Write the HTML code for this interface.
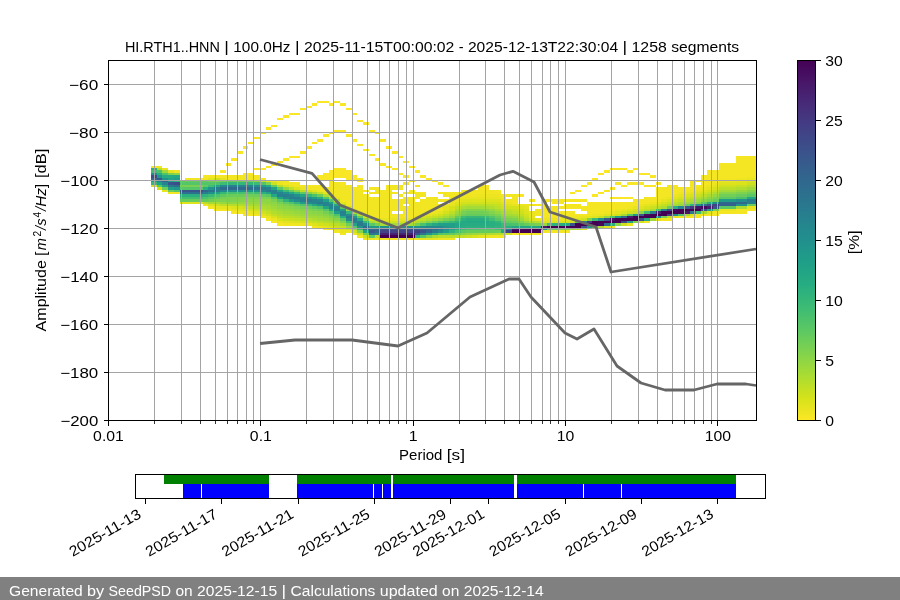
<!DOCTYPE html>
<html><head><meta charset="utf-8"><title>PPSD HI.RTH1..HNN</title>
<style>html,body{margin:0;padding:0;background:#fff;}svg{display:block;will-change:transform;}text{font-family:"Liberation Sans",sans-serif;}</style></head>
<body>
<svg width="900" height="600" viewBox="0 0 900 600" font-family="Liberation Sans, sans-serif">
<rect width="900" height="600" fill="#fff"/>
<g shape-rendering="crispEdges">
<rect x="151.00" y="184.80" width="5.73" height="2.40" fill="#d2e21c"/>
<rect x="151.00" y="182.40" width="5.73" height="2.40" fill="#36b778"/>
<rect x="151.00" y="180.00" width="5.73" height="2.40" fill="#20a088"/>
<rect x="151.00" y="177.60" width="5.73" height="2.40" fill="#31678d"/>
<rect x="151.00" y="175.20" width="5.73" height="2.40" fill="#3d4c89"/>
<rect x="151.00" y="172.80" width="5.73" height="2.40" fill="#21908d"/>
<rect x="151.00" y="170.40" width="5.73" height="2.40" fill="#43be71"/>
<rect x="151.00" y="168.00" width="5.73" height="2.40" fill="#2aaf7f"/>
<rect x="151.00" y="165.60" width="5.73" height="2.40" fill="#f2e622"/>
<rect x="156.73" y="187.20" width="5.73" height="2.40" fill="#d5e21a"/>
<rect x="156.73" y="184.80" width="5.73" height="2.40" fill="#58c765"/>
<rect x="156.73" y="182.40" width="5.73" height="2.40" fill="#21a286"/>
<rect x="156.73" y="180.00" width="5.73" height="2.40" fill="#26818e"/>
<rect x="156.73" y="177.60" width="5.73" height="2.40" fill="#38588c"/>
<rect x="156.73" y="175.20" width="5.73" height="2.40" fill="#21938c"/>
<rect x="156.73" y="172.80" width="5.73" height="2.40" fill="#29ae80"/>
<rect x="156.73" y="170.40" width="5.73" height="2.40" fill="#4ec26b"/>
<rect x="156.73" y="168.00" width="5.73" height="2.40" fill="#b7de2b"/>
<rect x="156.73" y="165.60" width="5.73" height="2.40" fill="#f0e521"/>
<rect x="162.47" y="189.60" width="5.73" height="2.40" fill="#e8e41f"/>
<rect x="162.47" y="187.20" width="5.73" height="2.40" fill="#71ce57"/>
<rect x="162.47" y="184.80" width="5.73" height="2.40" fill="#22a585"/>
<rect x="162.47" y="182.40" width="5.73" height="2.40" fill="#25848e"/>
<rect x="162.47" y="180.00" width="5.73" height="2.40" fill="#30688d"/>
<rect x="162.47" y="177.60" width="5.73" height="2.40" fill="#21928c"/>
<rect x="162.47" y="175.20" width="5.73" height="2.40" fill="#27ac81"/>
<rect x="162.47" y="172.80" width="5.73" height="2.40" fill="#4ec36b"/>
<rect x="162.47" y="170.40" width="5.73" height="2.40" fill="#9dd93b"/>
<rect x="162.47" y="168.00" width="5.73" height="2.40" fill="#eae520"/>
<rect x="168.20" y="192.00" width="5.73" height="2.40" fill="#f3e622"/>
<rect x="168.20" y="189.60" width="5.73" height="2.40" fill="#6bcd5a"/>
<rect x="168.20" y="187.20" width="5.73" height="2.40" fill="#20a187"/>
<rect x="168.20" y="184.80" width="5.73" height="2.40" fill="#29788e"/>
<rect x="168.20" y="182.40" width="5.73" height="2.40" fill="#39568c"/>
<rect x="168.20" y="180.00" width="5.73" height="2.40" fill="#1f9f88"/>
<rect x="168.20" y="177.60" width="5.73" height="2.40" fill="#22a486"/>
<rect x="168.20" y="175.20" width="5.73" height="2.40" fill="#26ab82"/>
<rect x="168.20" y="172.80" width="5.73" height="2.40" fill="#7cd250"/>
<rect x="168.20" y="170.40" width="5.73" height="2.40" fill="#e4e41e"/>
<rect x="173.93" y="192.00" width="5.73" height="2.40" fill="#f2e622"/>
<rect x="173.93" y="189.60" width="5.73" height="2.40" fill="#54c568"/>
<rect x="173.93" y="187.20" width="5.73" height="2.40" fill="#20988a"/>
<rect x="173.93" y="184.80" width="5.73" height="2.40" fill="#2d6f8e"/>
<rect x="173.93" y="182.40" width="5.73" height="2.40" fill="#3d4c89"/>
<rect x="173.93" y="180.00" width="5.73" height="2.40" fill="#2aaf7f"/>
<rect x="173.93" y="177.60" width="5.73" height="2.40" fill="#20a088"/>
<rect x="173.93" y="175.20" width="5.73" height="2.40" fill="#24a784"/>
<rect x="173.93" y="172.80" width="5.73" height="2.40" fill="#8fd644"/>
<rect x="173.93" y="170.40" width="5.73" height="2.40" fill="#f2e622"/>
<rect x="179.67" y="201.60" width="5.73" height="2.40" fill="#dde31c"/>
<rect x="179.67" y="199.20" width="5.73" height="2.40" fill="#66cb5d"/>
<rect x="179.67" y="196.80" width="5.73" height="2.40" fill="#43be71"/>
<rect x="179.67" y="194.40" width="5.73" height="2.40" fill="#2aaf7f"/>
<rect x="179.67" y="192.00" width="5.73" height="2.40" fill="#2d6f8e"/>
<rect x="179.67" y="189.60" width="5.73" height="2.40" fill="#39568c"/>
<rect x="179.67" y="187.20" width="5.73" height="2.40" fill="#54c568"/>
<rect x="179.67" y="184.80" width="5.73" height="2.40" fill="#7ad151"/>
<rect x="179.67" y="182.40" width="5.73" height="2.40" fill="#54c568"/>
<rect x="179.67" y="180.00" width="5.73" height="2.40" fill="#66cb5d"/>
<rect x="185.40" y="201.60" width="5.73" height="2.40" fill="#dde31c"/>
<rect x="185.40" y="199.20" width="5.73" height="2.40" fill="#66cb5d"/>
<rect x="185.40" y="196.80" width="5.73" height="2.40" fill="#43be71"/>
<rect x="185.40" y="194.40" width="5.73" height="2.40" fill="#2aaf7f"/>
<rect x="185.40" y="192.00" width="5.73" height="2.40" fill="#2d6f8e"/>
<rect x="185.40" y="189.60" width="5.73" height="2.40" fill="#39568c"/>
<rect x="185.40" y="187.20" width="5.73" height="2.40" fill="#54c568"/>
<rect x="185.40" y="184.80" width="5.73" height="2.40" fill="#7ad151"/>
<rect x="185.40" y="182.40" width="5.73" height="2.40" fill="#54c568"/>
<rect x="185.40" y="180.00" width="5.73" height="2.40" fill="#66cb5d"/>
<rect x="185.40" y="177.60" width="5.73" height="2.40" fill="#f2e622"/>
<rect x="191.13" y="201.60" width="5.73" height="2.40" fill="#dde31c"/>
<rect x="191.13" y="199.20" width="5.73" height="2.40" fill="#66cb5d"/>
<rect x="191.13" y="196.80" width="5.73" height="2.40" fill="#43be71"/>
<rect x="191.13" y="194.40" width="5.73" height="2.40" fill="#2aaf7f"/>
<rect x="191.13" y="192.00" width="5.73" height="2.40" fill="#2d6f8e"/>
<rect x="191.13" y="189.60" width="5.73" height="2.40" fill="#39568c"/>
<rect x="191.13" y="187.20" width="5.73" height="2.40" fill="#54c568"/>
<rect x="191.13" y="184.80" width="5.73" height="2.40" fill="#7ad151"/>
<rect x="191.13" y="182.40" width="5.73" height="2.40" fill="#54c568"/>
<rect x="191.13" y="180.00" width="5.73" height="2.40" fill="#66cb5d"/>
<rect x="191.13" y="177.60" width="5.73" height="2.40" fill="#f2e622"/>
<rect x="196.87" y="201.60" width="5.73" height="2.40" fill="#dde31c"/>
<rect x="196.87" y="199.20" width="5.73" height="2.40" fill="#66cb5d"/>
<rect x="196.87" y="196.80" width="5.73" height="2.40" fill="#43be71"/>
<rect x="196.87" y="194.40" width="5.73" height="2.40" fill="#2aaf7f"/>
<rect x="196.87" y="192.00" width="5.73" height="2.40" fill="#2d6f8e"/>
<rect x="196.87" y="189.60" width="5.73" height="2.40" fill="#39568c"/>
<rect x="196.87" y="187.20" width="5.73" height="2.40" fill="#54c568"/>
<rect x="196.87" y="184.80" width="5.73" height="2.40" fill="#7ad151"/>
<rect x="196.87" y="182.40" width="5.73" height="2.40" fill="#54c568"/>
<rect x="196.87" y="180.00" width="5.73" height="2.40" fill="#66cb5d"/>
<rect x="196.87" y="177.60" width="5.73" height="2.40" fill="#f2e622"/>
<rect x="202.60" y="204.00" width="5.73" height="2.40" fill="#f0e521"/>
<rect x="202.60" y="201.60" width="5.73" height="2.40" fill="#bbde29"/>
<rect x="202.60" y="199.20" width="5.73" height="2.40" fill="#66cb5d"/>
<rect x="202.60" y="196.80" width="5.73" height="2.40" fill="#4dc26b"/>
<rect x="202.60" y="194.40" width="5.73" height="2.40" fill="#31b47b"/>
<rect x="202.60" y="192.00" width="5.73" height="2.40" fill="#277e8e"/>
<rect x="202.60" y="189.60" width="5.73" height="2.40" fill="#31668d"/>
<rect x="202.60" y="187.20" width="5.73" height="2.40" fill="#29af80"/>
<rect x="202.60" y="184.80" width="5.73" height="2.40" fill="#62ca60"/>
<rect x="202.60" y="182.40" width="5.73" height="2.40" fill="#54c568"/>
<rect x="202.60" y="180.00" width="5.73" height="2.40" fill="#66cb5d"/>
<rect x="202.60" y="177.60" width="5.73" height="2.40" fill="#f2e622"/>
<rect x="202.60" y="175.20" width="5.73" height="2.40" fill="#f7e623"/>
<rect x="208.34" y="206.40" width="5.73" height="2.40" fill="#f5e623"/>
<rect x="208.34" y="204.00" width="5.73" height="2.40" fill="#dfe31d"/>
<rect x="208.34" y="201.60" width="5.73" height="2.40" fill="#a7db34"/>
<rect x="208.34" y="199.20" width="5.73" height="2.40" fill="#70ce57"/>
<rect x="208.34" y="196.80" width="5.73" height="2.40" fill="#58c765"/>
<rect x="208.34" y="194.40" width="5.73" height="2.40" fill="#3bba75"/>
<rect x="208.34" y="192.00" width="5.73" height="2.40" fill="#21908d"/>
<rect x="208.34" y="189.60" width="5.73" height="2.40" fill="#2c728e"/>
<rect x="208.34" y="187.20" width="5.73" height="2.40" fill="#20958b"/>
<rect x="208.34" y="184.80" width="5.73" height="2.40" fill="#43be71"/>
<rect x="208.34" y="182.40" width="5.73" height="2.40" fill="#55c567"/>
<rect x="208.34" y="180.00" width="5.73" height="2.40" fill="#73cf55"/>
<rect x="208.34" y="177.60" width="5.73" height="2.40" fill="#e2e41e"/>
<rect x="208.34" y="175.20" width="5.73" height="2.40" fill="#f4e622"/>
<rect x="214.07" y="208.80" width="5.73" height="2.40" fill="#f5e623"/>
<rect x="214.07" y="206.40" width="5.73" height="2.40" fill="#e8e41f"/>
<rect x="214.07" y="204.00" width="5.73" height="2.40" fill="#cde11f"/>
<rect x="214.07" y="201.60" width="5.73" height="2.40" fill="#a5db36"/>
<rect x="214.07" y="199.20" width="5.73" height="2.40" fill="#7ed24f"/>
<rect x="214.07" y="196.80" width="5.73" height="2.40" fill="#66cb5d"/>
<rect x="214.07" y="194.40" width="5.73" height="2.40" fill="#4bc26c"/>
<rect x="214.07" y="192.00" width="5.73" height="2.40" fill="#22a386"/>
<rect x="214.07" y="189.60" width="5.73" height="2.40" fill="#287c8e"/>
<rect x="214.07" y="187.20" width="5.73" height="2.40" fill="#277e8e"/>
<rect x="214.07" y="184.80" width="5.73" height="2.40" fill="#24a884"/>
<rect x="214.07" y="182.40" width="5.73" height="2.40" fill="#50c36a"/>
<rect x="214.07" y="180.00" width="5.73" height="2.40" fill="#81d34d"/>
<rect x="214.07" y="177.60" width="5.73" height="2.40" fill="#cfe11d"/>
<rect x="214.07" y="175.20" width="5.73" height="2.40" fill="#f5e623"/>
<rect x="219.80" y="208.80" width="5.73" height="2.40" fill="#f3e622"/>
<rect x="219.80" y="206.40" width="5.73" height="2.40" fill="#e5e41f"/>
<rect x="219.80" y="204.00" width="5.73" height="2.40" fill="#bfdf26"/>
<rect x="219.80" y="201.60" width="5.73" height="2.40" fill="#97d83e"/>
<rect x="219.80" y="199.20" width="5.73" height="2.40" fill="#7ed24f"/>
<rect x="219.80" y="196.80" width="5.73" height="2.40" fill="#74cf55"/>
<rect x="219.80" y="194.40" width="5.73" height="2.40" fill="#5dc862"/>
<rect x="219.80" y="192.00" width="5.73" height="2.40" fill="#35b778"/>
<rect x="219.80" y="189.60" width="5.73" height="2.40" fill="#23898d"/>
<rect x="219.80" y="187.20" width="5.73" height="2.40" fill="#2e6c8e"/>
<rect x="219.80" y="184.80" width="5.73" height="2.40" fill="#228c8d"/>
<rect x="219.80" y="182.40" width="5.73" height="2.40" fill="#3ebc74"/>
<rect x="219.80" y="180.00" width="5.73" height="2.40" fill="#73cf55"/>
<rect x="219.80" y="177.60" width="5.73" height="2.40" fill="#e1e41d"/>
<rect x="219.80" y="175.20" width="5.73" height="2.40" fill="#f4e622"/>
<rect x="219.80" y="170.40" width="5.73" height="2.40" fill="#f9e624"/>
<rect x="225.54" y="208.80" width="5.73" height="2.40" fill="#efe521"/>
<rect x="225.54" y="206.40" width="5.73" height="2.40" fill="#e3e41e"/>
<rect x="225.54" y="204.00" width="5.73" height="2.40" fill="#b9de2a"/>
<rect x="225.54" y="201.60" width="5.73" height="2.40" fill="#90d643"/>
<rect x="225.54" y="199.20" width="5.73" height="2.40" fill="#7cd150"/>
<rect x="225.54" y="196.80" width="5.73" height="2.40" fill="#7bd151"/>
<rect x="225.54" y="194.40" width="5.73" height="2.40" fill="#67cb5c"/>
<rect x="225.54" y="192.00" width="5.73" height="2.40" fill="#44bf70"/>
<rect x="225.54" y="189.60" width="5.73" height="2.40" fill="#21918d"/>
<rect x="225.54" y="187.20" width="5.73" height="2.40" fill="#30688d"/>
<rect x="225.54" y="184.80" width="5.73" height="2.40" fill="#26818e"/>
<rect x="225.54" y="182.40" width="5.73" height="2.40" fill="#36b778"/>
<rect x="225.54" y="180.00" width="5.73" height="2.40" fill="#68cc5c"/>
<rect x="225.54" y="177.60" width="5.73" height="2.40" fill="#f2e622"/>
<rect x="225.54" y="175.20" width="5.73" height="2.40" fill="#f2e622"/>
<rect x="225.54" y="163.20" width="5.73" height="2.40" fill="#f9e624"/>
<rect x="231.27" y="211.20" width="5.73" height="2.40" fill="#f7e623"/>
<rect x="231.27" y="208.80" width="5.73" height="2.40" fill="#e9e41f"/>
<rect x="231.27" y="206.40" width="5.73" height="2.40" fill="#dbe31c"/>
<rect x="231.27" y="204.00" width="5.73" height="2.40" fill="#b4dd2c"/>
<rect x="231.27" y="201.60" width="5.73" height="2.40" fill="#92d742"/>
<rect x="231.27" y="199.20" width="5.73" height="2.40" fill="#80d34e"/>
<rect x="231.27" y="196.80" width="5.73" height="2.40" fill="#7dd250"/>
<rect x="231.27" y="194.40" width="5.73" height="2.40" fill="#69cc5b"/>
<rect x="231.27" y="192.00" width="5.73" height="2.40" fill="#46bf6f"/>
<rect x="231.27" y="189.60" width="5.73" height="2.40" fill="#21928c"/>
<rect x="231.27" y="187.20" width="5.73" height="2.40" fill="#30698d"/>
<rect x="231.27" y="184.80" width="5.73" height="2.40" fill="#26828e"/>
<rect x="231.27" y="182.40" width="5.73" height="2.40" fill="#36b778"/>
<rect x="231.27" y="180.00" width="5.73" height="2.40" fill="#6ccd5a"/>
<rect x="231.27" y="177.60" width="5.73" height="2.40" fill="#f2e622"/>
<rect x="231.27" y="175.20" width="5.73" height="2.40" fill="#f2e622"/>
<rect x="231.27" y="158.40" width="5.73" height="2.40" fill="#f9e624"/>
<rect x="237.00" y="211.20" width="5.73" height="2.40" fill="#f2e622"/>
<rect x="237.00" y="208.80" width="5.73" height="2.40" fill="#e2e41e"/>
<rect x="237.00" y="206.40" width="5.73" height="2.40" fill="#d2e21b"/>
<rect x="237.00" y="204.00" width="5.73" height="2.40" fill="#b0dd2f"/>
<rect x="237.00" y="201.60" width="5.73" height="2.40" fill="#94d740"/>
<rect x="237.00" y="199.20" width="5.73" height="2.40" fill="#84d44b"/>
<rect x="237.00" y="196.80" width="5.73" height="2.40" fill="#7ed24e"/>
<rect x="237.00" y="194.40" width="5.73" height="2.40" fill="#6bcc5a"/>
<rect x="237.00" y="192.00" width="5.73" height="2.40" fill="#47c06e"/>
<rect x="237.00" y="189.60" width="5.73" height="2.40" fill="#20948c"/>
<rect x="237.00" y="187.20" width="5.73" height="2.40" fill="#2f6b8e"/>
<rect x="237.00" y="184.80" width="5.73" height="2.40" fill="#25848e"/>
<rect x="237.00" y="182.40" width="5.73" height="2.40" fill="#36b778"/>
<rect x="237.00" y="180.00" width="5.73" height="2.40" fill="#70ce57"/>
<rect x="237.00" y="177.60" width="5.73" height="2.40" fill="#f2e622"/>
<rect x="237.00" y="175.20" width="5.73" height="2.40" fill="#f2e622"/>
<rect x="237.00" y="151.20" width="5.73" height="2.40" fill="#f9e624"/>
<rect x="242.74" y="213.60" width="5.73" height="2.40" fill="#f6e623"/>
<rect x="242.74" y="211.20" width="5.73" height="2.40" fill="#eee521"/>
<rect x="242.74" y="208.80" width="5.73" height="2.40" fill="#dce31c"/>
<rect x="242.74" y="206.40" width="5.73" height="2.40" fill="#cae020"/>
<rect x="242.74" y="204.00" width="5.73" height="2.40" fill="#abdc31"/>
<rect x="242.74" y="201.60" width="5.73" height="2.40" fill="#96d83f"/>
<rect x="242.74" y="199.20" width="5.73" height="2.40" fill="#88d449"/>
<rect x="242.74" y="196.80" width="5.73" height="2.40" fill="#80d34d"/>
<rect x="242.74" y="194.40" width="5.73" height="2.40" fill="#6dcd59"/>
<rect x="242.74" y="192.00" width="5.73" height="2.40" fill="#49c16d"/>
<rect x="242.74" y="189.60" width="5.73" height="2.40" fill="#20958b"/>
<rect x="242.74" y="187.20" width="5.73" height="2.40" fill="#2e6c8e"/>
<rect x="242.74" y="184.80" width="5.73" height="2.40" fill="#25858e"/>
<rect x="242.74" y="182.40" width="5.73" height="2.40" fill="#36b778"/>
<rect x="242.74" y="180.00" width="5.73" height="2.40" fill="#73cf55"/>
<rect x="242.74" y="177.60" width="5.73" height="2.40" fill="#f2e622"/>
<rect x="242.74" y="175.20" width="5.73" height="2.40" fill="#f2e622"/>
<rect x="242.74" y="146.40" width="5.73" height="2.40" fill="#f9e624"/>
<rect x="242.74" y="172.80" width="5.73" height="2.40" fill="#f9e624"/>
<rect x="248.47" y="213.60" width="5.73" height="2.40" fill="#f4e622"/>
<rect x="248.47" y="211.20" width="5.73" height="2.40" fill="#eae520"/>
<rect x="248.47" y="208.80" width="5.73" height="2.40" fill="#d6e21a"/>
<rect x="248.47" y="206.40" width="5.73" height="2.40" fill="#c1df25"/>
<rect x="248.47" y="204.00" width="5.73" height="2.40" fill="#a7db34"/>
<rect x="248.47" y="201.60" width="5.73" height="2.40" fill="#98d83e"/>
<rect x="248.47" y="199.20" width="5.73" height="2.40" fill="#8cd546"/>
<rect x="248.47" y="196.80" width="5.73" height="2.40" fill="#82d34c"/>
<rect x="248.47" y="194.40" width="5.73" height="2.40" fill="#6fce58"/>
<rect x="248.47" y="192.00" width="5.73" height="2.40" fill="#4ac16d"/>
<rect x="248.47" y="189.60" width="5.73" height="2.40" fill="#20978b"/>
<rect x="248.47" y="187.20" width="5.73" height="2.40" fill="#2d6e8e"/>
<rect x="248.47" y="184.80" width="5.73" height="2.40" fill="#24878e"/>
<rect x="248.47" y="182.40" width="5.73" height="2.40" fill="#36b778"/>
<rect x="248.47" y="180.00" width="5.73" height="2.40" fill="#77d053"/>
<rect x="248.47" y="177.60" width="5.73" height="2.40" fill="#f2e622"/>
<rect x="248.47" y="175.20" width="5.73" height="2.40" fill="#f2e622"/>
<rect x="248.47" y="141.60" width="5.73" height="2.40" fill="#f9e624"/>
<rect x="248.47" y="172.80" width="5.73" height="2.40" fill="#f9e624"/>
<rect x="254.20" y="213.60" width="5.73" height="2.40" fill="#efe521"/>
<rect x="254.20" y="211.20" width="5.73" height="2.40" fill="#e2e41e"/>
<rect x="254.20" y="208.80" width="5.73" height="2.40" fill="#cce11f"/>
<rect x="254.20" y="206.40" width="5.73" height="2.40" fill="#b7de2b"/>
<rect x="254.20" y="204.00" width="5.73" height="2.40" fill="#a3da37"/>
<rect x="254.20" y="201.60" width="5.73" height="2.40" fill="#98d83e"/>
<rect x="254.20" y="199.20" width="5.73" height="2.40" fill="#8dd645"/>
<rect x="254.20" y="196.80" width="5.73" height="2.40" fill="#82d34c"/>
<rect x="254.20" y="194.40" width="5.73" height="2.40" fill="#6ccd5a"/>
<rect x="254.20" y="192.00" width="5.73" height="2.40" fill="#40bd72"/>
<rect x="254.20" y="189.60" width="5.73" height="2.40" fill="#21948c"/>
<rect x="254.20" y="187.20" width="5.73" height="2.40" fill="#2b738e"/>
<rect x="254.20" y="184.80" width="5.73" height="2.40" fill="#228e8d"/>
<rect x="254.20" y="182.40" width="5.73" height="2.40" fill="#3bbb75"/>
<rect x="254.20" y="180.00" width="5.73" height="2.40" fill="#8cd546"/>
<rect x="254.20" y="177.60" width="5.73" height="2.40" fill="#f3e622"/>
<rect x="254.20" y="175.20" width="5.73" height="2.40" fill="#f5e623"/>
<rect x="254.20" y="136.80" width="5.73" height="2.40" fill="#f9e624"/>
<rect x="254.20" y="168.00" width="5.73" height="2.40" fill="#f9e624"/>
<rect x="259.94" y="216.00" width="5.73" height="2.40" fill="#f2e622"/>
<rect x="259.94" y="213.60" width="5.73" height="2.40" fill="#e4e41e"/>
<rect x="259.94" y="211.20" width="5.73" height="2.40" fill="#d1e11c"/>
<rect x="259.94" y="208.80" width="5.73" height="2.40" fill="#bddf27"/>
<rect x="259.94" y="206.40" width="5.73" height="2.40" fill="#acdc31"/>
<rect x="259.94" y="204.00" width="5.73" height="2.40" fill="#9fda39"/>
<rect x="259.94" y="201.60" width="5.73" height="2.40" fill="#94d741"/>
<rect x="259.94" y="199.20" width="5.73" height="2.40" fill="#8cd546"/>
<rect x="259.94" y="196.80" width="5.73" height="2.40" fill="#7ed24f"/>
<rect x="259.94" y="194.40" width="5.73" height="2.40" fill="#60c960"/>
<rect x="259.94" y="192.00" width="5.73" height="2.40" fill="#2aaf7f"/>
<rect x="259.94" y="189.60" width="5.73" height="2.40" fill="#24878e"/>
<rect x="259.94" y="187.20" width="5.73" height="2.40" fill="#287c8e"/>
<rect x="259.94" y="184.80" width="5.73" height="2.40" fill="#1f9d89"/>
<rect x="259.94" y="182.40" width="5.73" height="2.40" fill="#55c567"/>
<rect x="259.94" y="180.00" width="5.73" height="2.40" fill="#bedf27"/>
<rect x="259.94" y="177.60" width="5.73" height="2.40" fill="#f5e623"/>
<rect x="259.94" y="132.00" width="5.73" height="2.40" fill="#f9e624"/>
<rect x="259.94" y="168.00" width="5.73" height="2.40" fill="#f9e624"/>
<rect x="265.67" y="218.40" width="5.73" height="2.40" fill="#f4e623"/>
<rect x="265.67" y="216.00" width="5.73" height="2.40" fill="#eae520"/>
<rect x="265.67" y="213.60" width="5.73" height="2.40" fill="#d6e21a"/>
<rect x="265.67" y="211.20" width="5.73" height="2.40" fill="#c0df26"/>
<rect x="265.67" y="208.80" width="5.73" height="2.40" fill="#b2dd2d"/>
<rect x="265.67" y="206.40" width="5.73" height="2.40" fill="#a6db35"/>
<rect x="265.67" y="204.00" width="5.73" height="2.40" fill="#9bd93c"/>
<rect x="265.67" y="201.60" width="5.73" height="2.40" fill="#90d643"/>
<rect x="265.67" y="199.20" width="5.73" height="2.40" fill="#8ed645"/>
<rect x="265.67" y="196.80" width="5.73" height="2.40" fill="#7bd151"/>
<rect x="265.67" y="194.40" width="5.73" height="2.40" fill="#56c666"/>
<rect x="265.67" y="192.00" width="5.73" height="2.40" fill="#21a386"/>
<rect x="265.67" y="189.60" width="5.73" height="2.40" fill="#287b8e"/>
<rect x="265.67" y="187.20" width="5.73" height="2.40" fill="#26808e"/>
<rect x="265.67" y="184.80" width="5.73" height="2.40" fill="#26ab82"/>
<rect x="265.67" y="182.40" width="5.73" height="2.40" fill="#80d34d"/>
<rect x="265.67" y="180.00" width="5.73" height="2.40" fill="#e9e41f"/>
<rect x="265.67" y="127.20" width="5.73" height="2.40" fill="#f9e624"/>
<rect x="265.67" y="165.60" width="5.73" height="2.40" fill="#f9e624"/>
<rect x="271.40" y="220.80" width="5.73" height="2.40" fill="#f5e623"/>
<rect x="271.40" y="218.40" width="5.73" height="2.40" fill="#ebe520"/>
<rect x="271.40" y="216.00" width="5.73" height="2.40" fill="#d8e21b"/>
<rect x="271.40" y="213.60" width="5.73" height="2.40" fill="#c2df25"/>
<rect x="271.40" y="211.20" width="5.73" height="2.40" fill="#b3dd2d"/>
<rect x="271.40" y="208.80" width="5.73" height="2.40" fill="#a8db34"/>
<rect x="271.40" y="206.40" width="5.73" height="2.40" fill="#9dd93b"/>
<rect x="271.40" y="204.00" width="5.73" height="2.40" fill="#92d742"/>
<rect x="271.40" y="201.60" width="5.73" height="2.40" fill="#8cd546"/>
<rect x="271.40" y="199.20" width="5.73" height="2.40" fill="#7cd150"/>
<rect x="271.40" y="196.80" width="5.73" height="2.40" fill="#5ac764"/>
<rect x="271.40" y="194.40" width="5.73" height="2.40" fill="#23a784"/>
<rect x="271.40" y="192.00" width="5.73" height="2.40" fill="#26828e"/>
<rect x="271.40" y="189.60" width="5.73" height="2.40" fill="#27808e"/>
<rect x="271.40" y="187.20" width="5.73" height="2.40" fill="#21a386"/>
<rect x="271.40" y="184.80" width="5.73" height="2.40" fill="#66cb5d"/>
<rect x="271.40" y="182.40" width="5.73" height="2.40" fill="#cce11f"/>
<rect x="271.40" y="180.00" width="5.73" height="2.40" fill="#f4e623"/>
<rect x="271.40" y="124.80" width="5.73" height="2.40" fill="#f9e624"/>
<rect x="271.40" y="163.20" width="5.73" height="2.40" fill="#f9e624"/>
<rect x="277.14" y="223.20" width="5.73" height="2.40" fill="#f6e623"/>
<rect x="277.14" y="220.80" width="5.73" height="2.40" fill="#ebe520"/>
<rect x="277.14" y="218.40" width="5.73" height="2.40" fill="#d9e31b"/>
<rect x="277.14" y="216.00" width="5.73" height="2.40" fill="#c3df24"/>
<rect x="277.14" y="213.60" width="5.73" height="2.40" fill="#b4dd2d"/>
<rect x="277.14" y="211.20" width="5.73" height="2.40" fill="#a8dc33"/>
<rect x="277.14" y="208.80" width="5.73" height="2.40" fill="#9dd93a"/>
<rect x="277.14" y="206.40" width="5.73" height="2.40" fill="#92d742"/>
<rect x="277.14" y="204.00" width="5.73" height="2.40" fill="#89d548"/>
<rect x="277.14" y="201.60" width="5.73" height="2.40" fill="#78d052"/>
<rect x="277.14" y="199.20" width="5.73" height="2.40" fill="#58c665"/>
<rect x="277.14" y="196.80" width="5.73" height="2.40" fill="#21a386"/>
<rect x="277.14" y="194.40" width="5.73" height="2.40" fill="#26818e"/>
<rect x="277.14" y="192.00" width="5.73" height="2.40" fill="#26828e"/>
<rect x="277.14" y="189.60" width="5.73" height="2.40" fill="#21a286"/>
<rect x="277.14" y="187.20" width="5.73" height="2.40" fill="#5bc863"/>
<rect x="277.14" y="184.80" width="5.73" height="2.40" fill="#b9de2a"/>
<rect x="277.14" y="182.40" width="5.73" height="2.40" fill="#ebe520"/>
<rect x="277.14" y="180.00" width="5.73" height="2.40" fill="#f4e623"/>
<rect x="277.14" y="117.60" width="5.73" height="2.40" fill="#f9e624"/>
<rect x="277.14" y="160.80" width="5.73" height="2.40" fill="#f9e624"/>
<rect x="282.87" y="223.20" width="5.73" height="2.40" fill="#f1e622"/>
<rect x="282.87" y="220.80" width="5.73" height="2.40" fill="#e5e41e"/>
<rect x="282.87" y="218.40" width="5.73" height="2.40" fill="#cfe11d"/>
<rect x="282.87" y="216.00" width="5.73" height="2.40" fill="#bbde29"/>
<rect x="282.87" y="213.60" width="5.73" height="2.40" fill="#addc30"/>
<rect x="282.87" y="211.20" width="5.73" height="2.40" fill="#a1da38"/>
<rect x="282.87" y="208.80" width="5.73" height="2.40" fill="#96d83f"/>
<rect x="282.87" y="206.40" width="5.73" height="2.40" fill="#8bd546"/>
<rect x="282.87" y="204.00" width="5.73" height="2.40" fill="#7dd24f"/>
<rect x="282.87" y="201.60" width="5.73" height="2.40" fill="#63ca5f"/>
<rect x="282.87" y="199.20" width="5.73" height="2.40" fill="#30b37c"/>
<rect x="282.87" y="196.80" width="5.73" height="2.40" fill="#23898d"/>
<rect x="282.87" y="194.40" width="5.73" height="2.40" fill="#287d8e"/>
<rect x="282.87" y="192.00" width="5.73" height="2.40" fill="#20948c"/>
<rect x="282.87" y="189.60" width="5.73" height="2.40" fill="#3cbb74"/>
<rect x="282.87" y="187.20" width="5.73" height="2.40" fill="#94d740"/>
<rect x="282.87" y="184.80" width="5.73" height="2.40" fill="#dce31c"/>
<rect x="282.87" y="182.40" width="5.73" height="2.40" fill="#f2e622"/>
<rect x="282.87" y="180.00" width="5.73" height="2.40" fill="#f6e623"/>
<rect x="282.87" y="115.20" width="5.73" height="2.40" fill="#f9e624"/>
<rect x="282.87" y="158.40" width="5.73" height="2.40" fill="#f9e624"/>
<rect x="288.60" y="223.20" width="5.73" height="2.40" fill="#f1e622"/>
<rect x="288.60" y="220.80" width="5.73" height="2.40" fill="#e1e31d"/>
<rect x="288.60" y="218.40" width="5.73" height="2.40" fill="#c9e020"/>
<rect x="288.60" y="216.00" width="5.73" height="2.40" fill="#b8de2a"/>
<rect x="288.60" y="213.60" width="5.73" height="2.40" fill="#a8dc33"/>
<rect x="288.60" y="211.20" width="5.73" height="2.40" fill="#9cd93b"/>
<rect x="288.60" y="208.80" width="5.73" height="2.40" fill="#91d742"/>
<rect x="288.60" y="206.40" width="5.73" height="2.40" fill="#86d44a"/>
<rect x="288.60" y="204.00" width="5.73" height="2.40" fill="#74cf55"/>
<rect x="288.60" y="201.60" width="5.73" height="2.40" fill="#52c468"/>
<rect x="288.60" y="199.20" width="5.73" height="2.40" fill="#209b89"/>
<rect x="288.60" y="196.80" width="5.73" height="2.40" fill="#287d8e"/>
<rect x="288.60" y="194.40" width="5.73" height="2.40" fill="#25858e"/>
<rect x="288.60" y="192.00" width="5.73" height="2.40" fill="#24a784"/>
<rect x="288.60" y="189.60" width="5.73" height="2.40" fill="#65cb5e"/>
<rect x="288.60" y="187.20" width="5.73" height="2.40" fill="#bfdf26"/>
<rect x="288.60" y="184.80" width="5.73" height="2.40" fill="#ece520"/>
<rect x="288.60" y="182.40" width="5.73" height="2.40" fill="#f2e622"/>
<rect x="288.60" y="112.80" width="5.73" height="2.40" fill="#f9e624"/>
<rect x="288.60" y="156.00" width="5.73" height="2.40" fill="#f9e624"/>
<rect x="294.34" y="223.20" width="5.73" height="2.40" fill="#f0e521"/>
<rect x="294.34" y="220.80" width="5.73" height="2.40" fill="#dce31c"/>
<rect x="294.34" y="218.40" width="5.73" height="2.40" fill="#c5e023"/>
<rect x="294.34" y="216.00" width="5.73" height="2.40" fill="#b2dd2e"/>
<rect x="294.34" y="213.60" width="5.73" height="2.40" fill="#a2da38"/>
<rect x="294.34" y="211.20" width="5.73" height="2.40" fill="#97d83f"/>
<rect x="294.34" y="208.80" width="5.73" height="2.40" fill="#8cd546"/>
<rect x="294.34" y="206.40" width="5.73" height="2.40" fill="#7ed24f"/>
<rect x="294.34" y="204.00" width="5.73" height="2.40" fill="#65cb5e"/>
<rect x="294.34" y="201.60" width="5.73" height="2.40" fill="#33b57a"/>
<rect x="294.34" y="199.20" width="5.73" height="2.40" fill="#238a8d"/>
<rect x="294.34" y="196.80" width="5.73" height="2.40" fill="#287c8e"/>
<rect x="294.34" y="194.40" width="5.73" height="2.40" fill="#21938c"/>
<rect x="294.34" y="192.00" width="5.73" height="2.40" fill="#3aba76"/>
<rect x="294.34" y="189.60" width="5.73" height="2.40" fill="#90d643"/>
<rect x="294.34" y="187.20" width="5.73" height="2.40" fill="#dbe31c"/>
<rect x="294.34" y="184.80" width="5.73" height="2.40" fill="#f2e622"/>
<rect x="294.34" y="182.40" width="5.73" height="2.40" fill="#f5e623"/>
<rect x="294.34" y="112.80" width="5.73" height="2.40" fill="#f9e624"/>
<rect x="294.34" y="156.00" width="5.73" height="2.40" fill="#f9e624"/>
<rect x="300.07" y="223.20" width="5.73" height="2.40" fill="#ede521"/>
<rect x="300.07" y="220.80" width="5.73" height="2.40" fill="#d6e21a"/>
<rect x="300.07" y="218.40" width="5.73" height="2.40" fill="#bfdf26"/>
<rect x="300.07" y="216.00" width="5.73" height="2.40" fill="#aadc32"/>
<rect x="300.07" y="213.60" width="5.73" height="2.40" fill="#9cd93b"/>
<rect x="300.07" y="211.20" width="5.73" height="2.40" fill="#91d742"/>
<rect x="300.07" y="208.80" width="5.73" height="2.40" fill="#87d449"/>
<rect x="300.07" y="206.40" width="5.73" height="2.40" fill="#75cf54"/>
<rect x="300.07" y="204.00" width="5.73" height="2.40" fill="#54c567"/>
<rect x="300.07" y="201.60" width="5.73" height="2.40" fill="#1f9d89"/>
<rect x="300.07" y="199.20" width="5.73" height="2.40" fill="#277e8e"/>
<rect x="300.07" y="196.80" width="5.73" height="2.40" fill="#25848e"/>
<rect x="300.07" y="194.40" width="5.73" height="2.40" fill="#23a585"/>
<rect x="300.07" y="192.00" width="5.73" height="2.40" fill="#60c960"/>
<rect x="300.07" y="189.60" width="5.73" height="2.40" fill="#bbde29"/>
<rect x="300.07" y="187.20" width="5.73" height="2.40" fill="#eae520"/>
<rect x="300.07" y="184.80" width="5.73" height="2.40" fill="#f2e622"/>
<rect x="300.07" y="108.00" width="5.73" height="2.40" fill="#f9e624"/>
<rect x="300.07" y="151.20" width="5.73" height="2.40" fill="#f9e624"/>
<rect x="305.80" y="223.20" width="5.73" height="2.40" fill="#e8e41f"/>
<rect x="305.80" y="220.80" width="5.73" height="2.40" fill="#cee11e"/>
<rect x="305.80" y="218.40" width="5.73" height="2.40" fill="#b7de2b"/>
<rect x="305.80" y="216.00" width="5.73" height="2.40" fill="#a3da37"/>
<rect x="305.80" y="213.60" width="5.73" height="2.40" fill="#98d83e"/>
<rect x="305.80" y="211.20" width="5.73" height="2.40" fill="#8dd645"/>
<rect x="305.80" y="208.80" width="5.73" height="2.40" fill="#80d34d"/>
<rect x="305.80" y="206.40" width="5.73" height="2.40" fill="#69cc5b"/>
<rect x="305.80" y="204.00" width="5.73" height="2.40" fill="#3bba75"/>
<rect x="305.80" y="201.60" width="5.73" height="2.40" fill="#228c8d"/>
<rect x="305.80" y="199.20" width="5.73" height="2.40" fill="#297a8e"/>
<rect x="305.80" y="196.80" width="5.73" height="2.40" fill="#218f8d"/>
<rect x="305.80" y="194.40" width="5.73" height="2.40" fill="#34b679"/>
<rect x="305.80" y="192.00" width="5.73" height="2.40" fill="#87d449"/>
<rect x="305.80" y="189.60" width="5.73" height="2.40" fill="#d8e21b"/>
<rect x="305.80" y="187.20" width="5.73" height="2.40" fill="#f2e622"/>
<rect x="305.80" y="184.80" width="5.73" height="2.40" fill="#f4e622"/>
<rect x="305.80" y="105.60" width="5.73" height="2.40" fill="#f9e624"/>
<rect x="305.80" y="146.40" width="5.73" height="2.40" fill="#f9e624"/>
<rect x="311.54" y="225.60" width="5.73" height="2.40" fill="#f4e623"/>
<rect x="311.54" y="223.20" width="5.73" height="2.40" fill="#dee31d"/>
<rect x="311.54" y="220.80" width="5.73" height="2.40" fill="#c6e022"/>
<rect x="311.54" y="218.40" width="5.73" height="2.40" fill="#afdd2f"/>
<rect x="311.54" y="216.00" width="5.73" height="2.40" fill="#9fda39"/>
<rect x="311.54" y="213.60" width="5.73" height="2.40" fill="#94d741"/>
<rect x="311.54" y="211.20" width="5.73" height="2.40" fill="#89d548"/>
<rect x="311.54" y="208.80" width="5.73" height="2.40" fill="#79d152"/>
<rect x="311.54" y="206.40" width="5.73" height="2.40" fill="#5bc863"/>
<rect x="311.54" y="204.00" width="5.73" height="2.40" fill="#24a883"/>
<rect x="311.54" y="201.60" width="5.73" height="2.40" fill="#25838e"/>
<rect x="311.54" y="199.20" width="5.73" height="2.40" fill="#26808e"/>
<rect x="311.54" y="196.80" width="5.73" height="2.40" fill="#1f9d89"/>
<rect x="311.54" y="194.40" width="5.73" height="2.40" fill="#4ec26b"/>
<rect x="311.54" y="192.00" width="5.73" height="2.40" fill="#a7db34"/>
<rect x="311.54" y="189.60" width="5.73" height="2.40" fill="#e3e41e"/>
<rect x="311.54" y="187.20" width="5.73" height="2.40" fill="#f2e622"/>
<rect x="311.54" y="184.80" width="5.73" height="2.40" fill="#f5e623"/>
<rect x="311.54" y="103.20" width="5.73" height="2.40" fill="#f9e624"/>
<rect x="311.54" y="141.60" width="5.73" height="2.40" fill="#f9e624"/>
<rect x="317.27" y="225.60" width="5.73" height="2.40" fill="#eee521"/>
<rect x="317.27" y="223.20" width="5.73" height="2.40" fill="#d5e21a"/>
<rect x="317.27" y="220.80" width="5.73" height="2.40" fill="#bedf27"/>
<rect x="317.27" y="218.40" width="5.73" height="2.40" fill="#a7db34"/>
<rect x="317.27" y="216.00" width="5.73" height="2.40" fill="#9bd93c"/>
<rect x="317.27" y="213.60" width="5.73" height="2.40" fill="#90d643"/>
<rect x="317.27" y="211.20" width="5.73" height="2.40" fill="#85d44a"/>
<rect x="317.27" y="208.80" width="5.73" height="2.40" fill="#72cf56"/>
<rect x="317.27" y="206.40" width="5.73" height="2.40" fill="#4fc36a"/>
<rect x="317.27" y="204.00" width="5.73" height="2.40" fill="#20968b"/>
<rect x="317.27" y="201.60" width="5.73" height="2.40" fill="#287a8e"/>
<rect x="317.27" y="199.20" width="5.73" height="2.40" fill="#24868e"/>
<rect x="317.27" y="196.80" width="5.73" height="2.40" fill="#26ab82"/>
<rect x="317.27" y="194.40" width="5.73" height="2.40" fill="#6ecd58"/>
<rect x="317.27" y="192.00" width="5.73" height="2.40" fill="#c7e022"/>
<rect x="317.27" y="189.60" width="5.73" height="2.40" fill="#efe521"/>
<rect x="317.27" y="187.20" width="5.73" height="2.40" fill="#f2e622"/>
<rect x="317.27" y="184.80" width="5.73" height="2.40" fill="#f3e622"/>
<rect x="317.27" y="100.80" width="5.73" height="2.40" fill="#f9e624"/>
<rect x="317.27" y="139.20" width="5.73" height="2.40" fill="#f9e624"/>
<rect x="317.27" y="177.60" width="5.73" height="2.40" fill="#f9e624"/>
<rect x="317.27" y="175.20" width="5.73" height="2.40" fill="#f9e624"/>
<rect x="323.00" y="228.00" width="5.73" height="2.40" fill="#f6e623"/>
<rect x="323.00" y="225.60" width="5.73" height="2.40" fill="#e3e41e"/>
<rect x="323.00" y="223.20" width="5.73" height="2.40" fill="#cce11f"/>
<rect x="323.00" y="220.80" width="5.73" height="2.40" fill="#b4dd2c"/>
<rect x="323.00" y="218.40" width="5.73" height="2.40" fill="#a3da37"/>
<rect x="323.00" y="216.00" width="5.73" height="2.40" fill="#94d740"/>
<rect x="323.00" y="213.60" width="5.73" height="2.40" fill="#86d44a"/>
<rect x="323.00" y="211.20" width="5.73" height="2.40" fill="#75cf54"/>
<rect x="323.00" y="208.80" width="5.73" height="2.40" fill="#56c666"/>
<rect x="323.00" y="206.40" width="5.73" height="2.40" fill="#22a485"/>
<rect x="323.00" y="204.00" width="5.73" height="2.40" fill="#26828e"/>
<rect x="323.00" y="201.60" width="5.73" height="2.40" fill="#26828e"/>
<rect x="323.00" y="199.20" width="5.73" height="2.40" fill="#20a187"/>
<rect x="323.00" y="196.80" width="5.73" height="2.40" fill="#58c765"/>
<rect x="323.00" y="194.40" width="5.73" height="2.40" fill="#b0dd2f"/>
<rect x="323.00" y="192.00" width="5.73" height="2.40" fill="#e5e41f"/>
<rect x="323.00" y="189.60" width="5.73" height="2.40" fill="#f2e622"/>
<rect x="323.00" y="187.20" width="5.73" height="2.40" fill="#f2e622"/>
<rect x="323.00" y="100.80" width="5.73" height="2.40" fill="#f9e624"/>
<rect x="323.00" y="134.40" width="5.73" height="2.40" fill="#f9e624"/>
<rect x="323.00" y="177.60" width="5.73" height="2.40" fill="#f9e624"/>
<rect x="323.00" y="175.20" width="5.73" height="2.40" fill="#f9e624"/>
<rect x="323.00" y="172.80" width="5.73" height="2.40" fill="#f9e624"/>
<rect x="328.74" y="228.00" width="5.73" height="2.40" fill="#efe521"/>
<rect x="328.74" y="225.60" width="5.73" height="2.40" fill="#dae31b"/>
<rect x="328.74" y="223.20" width="5.73" height="2.40" fill="#c1df25"/>
<rect x="328.74" y="220.80" width="5.73" height="2.40" fill="#acdc31"/>
<rect x="328.74" y="218.40" width="5.73" height="2.40" fill="#99d83d"/>
<rect x="328.74" y="216.00" width="5.73" height="2.40" fill="#86d44a"/>
<rect x="328.74" y="213.60" width="5.73" height="2.40" fill="#73cf55"/>
<rect x="328.74" y="211.20" width="5.73" height="2.40" fill="#57c666"/>
<rect x="328.74" y="208.80" width="5.73" height="2.40" fill="#25a983"/>
<rect x="328.74" y="206.40" width="5.73" height="2.40" fill="#25858e"/>
<rect x="328.74" y="204.00" width="5.73" height="2.40" fill="#27808e"/>
<rect x="328.74" y="201.60" width="5.73" height="2.40" fill="#1f9e88"/>
<rect x="328.74" y="199.20" width="5.73" height="2.40" fill="#56c666"/>
<rect x="328.74" y="196.80" width="5.73" height="2.40" fill="#abdc31"/>
<rect x="328.74" y="194.40" width="5.73" height="2.40" fill="#e2e41d"/>
<rect x="328.74" y="192.00" width="5.73" height="2.40" fill="#f2e622"/>
<rect x="328.74" y="189.60" width="5.73" height="2.40" fill="#f2e622"/>
<rect x="328.74" y="187.20" width="5.73" height="2.40" fill="#f4e622"/>
<rect x="328.74" y="184.80" width="5.73" height="2.40" fill="#f5e623"/>
<rect x="328.74" y="182.40" width="5.73" height="2.40" fill="#f5e623"/>
<rect x="328.74" y="180.00" width="5.73" height="2.40" fill="#f5e623"/>
<rect x="328.74" y="103.20" width="5.73" height="2.40" fill="#f9e624"/>
<rect x="328.74" y="132.00" width="5.73" height="2.40" fill="#f9e624"/>
<rect x="328.74" y="177.60" width="5.73" height="2.40" fill="#f9e624"/>
<rect x="328.74" y="175.20" width="5.73" height="2.40" fill="#f9e624"/>
<rect x="328.74" y="172.80" width="5.73" height="2.40" fill="#f9e624"/>
<rect x="328.74" y="170.40" width="5.73" height="2.40" fill="#f9e624"/>
<rect x="334.47" y="230.40" width="5.73" height="2.40" fill="#f3e622"/>
<rect x="334.47" y="228.00" width="5.73" height="2.40" fill="#e0e31d"/>
<rect x="334.47" y="225.60" width="5.73" height="2.40" fill="#cde11f"/>
<rect x="334.47" y="223.20" width="5.73" height="2.40" fill="#b9de2a"/>
<rect x="334.47" y="220.80" width="5.73" height="2.40" fill="#a1da38"/>
<rect x="334.47" y="218.40" width="5.73" height="2.40" fill="#88d548"/>
<rect x="334.47" y="216.00" width="5.73" height="2.40" fill="#70ce57"/>
<rect x="334.47" y="213.60" width="5.73" height="2.40" fill="#4fc36a"/>
<rect x="334.47" y="211.20" width="5.73" height="2.40" fill="#1f9e88"/>
<rect x="334.47" y="208.80" width="5.73" height="2.40" fill="#277f8e"/>
<rect x="334.47" y="206.40" width="5.73" height="2.40" fill="#25848e"/>
<rect x="334.47" y="204.00" width="5.73" height="2.40" fill="#25a983"/>
<rect x="334.47" y="201.60" width="5.73" height="2.40" fill="#71ce57"/>
<rect x="334.47" y="199.20" width="5.73" height="2.40" fill="#bfdf26"/>
<rect x="334.47" y="196.80" width="5.73" height="2.40" fill="#e9e520"/>
<rect x="334.47" y="194.40" width="5.73" height="2.40" fill="#f2e622"/>
<rect x="334.47" y="192.00" width="5.73" height="2.40" fill="#f2e622"/>
<rect x="334.47" y="189.60" width="5.73" height="2.40" fill="#f2e622"/>
<rect x="334.47" y="187.20" width="5.73" height="2.40" fill="#f2e622"/>
<rect x="334.47" y="184.80" width="5.73" height="2.40" fill="#f2e622"/>
<rect x="334.47" y="182.40" width="5.73" height="2.40" fill="#f2e622"/>
<rect x="334.47" y="100.80" width="5.73" height="2.40" fill="#f9e624"/>
<rect x="334.47" y="129.60" width="5.73" height="2.40" fill="#f9e624"/>
<rect x="334.47" y="175.20" width="5.73" height="2.40" fill="#f9e624"/>
<rect x="334.47" y="172.80" width="5.73" height="2.40" fill="#f9e624"/>
<rect x="334.47" y="170.40" width="5.73" height="2.40" fill="#f9e624"/>
<rect x="334.47" y="168.00" width="5.73" height="2.40" fill="#f9e624"/>
<rect x="340.20" y="232.80" width="5.73" height="2.40" fill="#f2e622"/>
<rect x="340.20" y="230.40" width="5.73" height="2.40" fill="#e9e41f"/>
<rect x="340.20" y="228.00" width="5.73" height="2.40" fill="#dee31c"/>
<rect x="340.20" y="225.60" width="5.73" height="2.40" fill="#c8e021"/>
<rect x="340.20" y="223.20" width="5.73" height="2.40" fill="#a6db34"/>
<rect x="340.20" y="220.80" width="5.73" height="2.40" fill="#83d34c"/>
<rect x="340.20" y="218.40" width="5.73" height="2.40" fill="#5fc961"/>
<rect x="340.20" y="216.00" width="5.73" height="2.40" fill="#26ab82"/>
<rect x="340.20" y="213.60" width="5.73" height="2.40" fill="#25848e"/>
<rect x="340.20" y="211.20" width="5.73" height="2.40" fill="#27808e"/>
<rect x="340.20" y="208.80" width="5.73" height="2.40" fill="#1f9d89"/>
<rect x="340.20" y="206.40" width="5.73" height="2.40" fill="#55c567"/>
<rect x="340.20" y="204.00" width="5.73" height="2.40" fill="#afdd2f"/>
<rect x="340.20" y="201.60" width="5.73" height="2.40" fill="#e2e41e"/>
<rect x="340.20" y="199.20" width="5.73" height="2.40" fill="#f2e622"/>
<rect x="340.20" y="196.80" width="5.73" height="2.40" fill="#f2e622"/>
<rect x="340.20" y="194.40" width="5.73" height="2.40" fill="#f2e622"/>
<rect x="340.20" y="192.00" width="5.73" height="2.40" fill="#f2e622"/>
<rect x="340.20" y="189.60" width="5.73" height="2.40" fill="#f2e622"/>
<rect x="340.20" y="187.20" width="5.73" height="2.40" fill="#f2e622"/>
<rect x="340.20" y="184.80" width="5.73" height="2.40" fill="#f4e623"/>
<rect x="340.20" y="182.40" width="5.73" height="2.40" fill="#f6e623"/>
<rect x="340.20" y="103.20" width="5.73" height="2.40" fill="#f9e624"/>
<rect x="340.20" y="129.60" width="5.73" height="2.40" fill="#f9e624"/>
<rect x="340.20" y="175.20" width="5.73" height="2.40" fill="#f9e624"/>
<rect x="340.20" y="172.80" width="5.73" height="2.40" fill="#f9e624"/>
<rect x="340.20" y="170.40" width="5.73" height="2.40" fill="#f9e624"/>
<rect x="340.20" y="168.00" width="5.73" height="2.40" fill="#f9e624"/>
<rect x="345.94" y="230.40" width="5.73" height="2.40" fill="#eee521"/>
<rect x="345.94" y="228.00" width="5.73" height="2.40" fill="#cce11f"/>
<rect x="345.94" y="225.60" width="5.73" height="2.40" fill="#9ed93a"/>
<rect x="345.94" y="223.20" width="5.73" height="2.40" fill="#71ce56"/>
<rect x="345.94" y="220.80" width="5.73" height="2.40" fill="#3dbc74"/>
<rect x="345.94" y="218.40" width="5.73" height="2.40" fill="#238b8d"/>
<rect x="345.94" y="216.00" width="5.73" height="2.40" fill="#297a8e"/>
<rect x="345.94" y="213.60" width="5.73" height="2.40" fill="#218f8d"/>
<rect x="345.94" y="211.20" width="5.73" height="2.40" fill="#37b878"/>
<rect x="345.94" y="208.80" width="5.73" height="2.40" fill="#9ad83d"/>
<rect x="345.94" y="206.40" width="5.73" height="2.40" fill="#d8e21b"/>
<rect x="345.94" y="204.00" width="5.73" height="2.40" fill="#f2e622"/>
<rect x="345.94" y="201.60" width="5.73" height="2.40" fill="#f2e622"/>
<rect x="345.94" y="199.20" width="5.73" height="2.40" fill="#f2e622"/>
<rect x="345.94" y="196.80" width="5.73" height="2.40" fill="#f2e622"/>
<rect x="345.94" y="194.40" width="5.73" height="2.40" fill="#f2e622"/>
<rect x="345.94" y="192.00" width="5.73" height="2.40" fill="#f2e622"/>
<rect x="345.94" y="189.60" width="5.73" height="2.40" fill="#f2e622"/>
<rect x="345.94" y="187.20" width="5.73" height="2.40" fill="#f2e622"/>
<rect x="345.94" y="184.80" width="5.73" height="2.40" fill="#f4e623"/>
<rect x="345.94" y="108.00" width="5.73" height="2.40" fill="#f9e624"/>
<rect x="345.94" y="134.40" width="5.73" height="2.40" fill="#f9e624"/>
<rect x="345.94" y="177.60" width="5.73" height="2.40" fill="#f9e624"/>
<rect x="345.94" y="175.20" width="5.73" height="2.40" fill="#f9e624"/>
<rect x="345.94" y="172.80" width="5.73" height="2.40" fill="#f9e624"/>
<rect x="345.94" y="170.40" width="5.73" height="2.40" fill="#f9e624"/>
<rect x="351.67" y="232.80" width="5.73" height="2.40" fill="#eee521"/>
<rect x="351.67" y="230.40" width="5.73" height="2.40" fill="#cee11e"/>
<rect x="351.67" y="228.00" width="5.73" height="2.40" fill="#95d740"/>
<rect x="351.67" y="225.60" width="5.73" height="2.40" fill="#57c666"/>
<rect x="351.67" y="223.20" width="5.73" height="2.40" fill="#23a585"/>
<rect x="351.67" y="220.80" width="5.73" height="2.40" fill="#26808e"/>
<rect x="351.67" y="218.40" width="5.73" height="2.40" fill="#287c8e"/>
<rect x="351.67" y="216.00" width="5.73" height="2.40" fill="#209a8a"/>
<rect x="351.67" y="213.60" width="5.73" height="2.40" fill="#4fc36a"/>
<rect x="351.67" y="211.20" width="5.73" height="2.40" fill="#a9dc33"/>
<rect x="351.67" y="208.80" width="5.73" height="2.40" fill="#dfe31d"/>
<rect x="351.67" y="206.40" width="5.73" height="2.40" fill="#f2e622"/>
<rect x="351.67" y="204.00" width="5.73" height="2.40" fill="#f2e622"/>
<rect x="351.67" y="201.60" width="5.73" height="2.40" fill="#f2e622"/>
<rect x="351.67" y="199.20" width="5.73" height="2.40" fill="#f2e622"/>
<rect x="351.67" y="196.80" width="5.73" height="2.40" fill="#f2e622"/>
<rect x="351.67" y="194.40" width="5.73" height="2.40" fill="#f2e622"/>
<rect x="351.67" y="192.00" width="5.73" height="2.40" fill="#f2e622"/>
<rect x="351.67" y="189.60" width="5.73" height="2.40" fill="#f2e622"/>
<rect x="351.67" y="187.20" width="5.73" height="2.40" fill="#f5e623"/>
<rect x="351.67" y="112.80" width="5.73" height="2.40" fill="#f9e624"/>
<rect x="351.67" y="139.20" width="5.73" height="2.40" fill="#f9e624"/>
<rect x="351.67" y="177.60" width="5.73" height="2.40" fill="#f9e624"/>
<rect x="351.67" y="175.20" width="5.73" height="2.40" fill="#f9e624"/>
<rect x="357.40" y="235.20" width="5.73" height="2.40" fill="#f3e622"/>
<rect x="357.40" y="232.80" width="5.73" height="2.40" fill="#cde11e"/>
<rect x="357.40" y="230.40" width="5.73" height="2.40" fill="#84d44b"/>
<rect x="357.40" y="228.00" width="5.73" height="2.40" fill="#38b977"/>
<rect x="357.40" y="225.60" width="5.73" height="2.40" fill="#21928c"/>
<rect x="357.40" y="223.20" width="5.73" height="2.40" fill="#2a778e"/>
<rect x="357.40" y="220.80" width="5.73" height="2.40" fill="#277f8e"/>
<rect x="357.40" y="218.40" width="5.73" height="2.40" fill="#23a585"/>
<rect x="357.40" y="216.00" width="5.73" height="2.40" fill="#68cc5c"/>
<rect x="357.40" y="213.60" width="5.73" height="2.40" fill="#b9de2a"/>
<rect x="357.40" y="211.20" width="5.73" height="2.40" fill="#e6e41f"/>
<rect x="357.40" y="208.80" width="5.73" height="2.40" fill="#f2e622"/>
<rect x="357.40" y="206.40" width="5.73" height="2.40" fill="#f2e622"/>
<rect x="357.40" y="204.00" width="5.73" height="2.40" fill="#f2e622"/>
<rect x="357.40" y="201.60" width="5.73" height="2.40" fill="#f2e622"/>
<rect x="357.40" y="199.20" width="5.73" height="2.40" fill="#f2e622"/>
<rect x="357.40" y="196.80" width="5.73" height="2.40" fill="#f2e622"/>
<rect x="357.40" y="194.40" width="5.73" height="2.40" fill="#f2e622"/>
<rect x="357.40" y="192.00" width="5.73" height="2.40" fill="#f2e622"/>
<rect x="357.40" y="189.60" width="5.73" height="2.40" fill="#f3e622"/>
<rect x="357.40" y="187.20" width="5.73" height="2.40" fill="#f4e622"/>
<rect x="357.40" y="184.80" width="5.73" height="2.40" fill="#f4e622"/>
<rect x="357.40" y="120.00" width="5.73" height="2.40" fill="#f9e624"/>
<rect x="357.40" y="144.00" width="5.73" height="2.40" fill="#f9e624"/>
<rect x="357.40" y="180.00" width="5.73" height="2.40" fill="#f9e624"/>
<rect x="357.40" y="177.60" width="5.73" height="2.40" fill="#f9e624"/>
<rect x="363.14" y="237.60" width="5.73" height="2.40" fill="#ede521"/>
<rect x="363.14" y="235.20" width="5.73" height="2.40" fill="#c6e022"/>
<rect x="363.14" y="232.80" width="5.73" height="2.40" fill="#75cf54"/>
<rect x="363.14" y="230.40" width="5.73" height="2.40" fill="#21a386"/>
<rect x="363.14" y="228.00" width="5.73" height="2.40" fill="#2b748e"/>
<rect x="363.14" y="225.60" width="5.73" height="2.40" fill="#2e6c8e"/>
<rect x="363.14" y="223.20" width="5.73" height="2.40" fill="#228c8d"/>
<rect x="363.14" y="220.80" width="5.73" height="2.40" fill="#36b778"/>
<rect x="363.14" y="218.40" width="5.73" height="2.40" fill="#8bd547"/>
<rect x="363.14" y="216.00" width="5.73" height="2.40" fill="#cbe120"/>
<rect x="363.14" y="213.60" width="5.73" height="2.40" fill="#e9e41f"/>
<rect x="363.14" y="211.20" width="5.73" height="2.40" fill="#f2e622"/>
<rect x="363.14" y="208.80" width="5.73" height="2.40" fill="#f2e622"/>
<rect x="363.14" y="206.40" width="5.73" height="2.40" fill="#f2e622"/>
<rect x="363.14" y="204.00" width="5.73" height="2.40" fill="#f2e622"/>
<rect x="363.14" y="201.60" width="5.73" height="2.40" fill="#f2e622"/>
<rect x="363.14" y="199.20" width="5.73" height="2.40" fill="#f2e622"/>
<rect x="363.14" y="196.80" width="5.73" height="2.40" fill="#f2e622"/>
<rect x="363.14" y="194.40" width="5.73" height="2.40" fill="#f2e622"/>
<rect x="363.14" y="189.60" width="5.73" height="2.40" fill="#f2e622"/>
<rect x="363.14" y="122.40" width="5.73" height="2.40" fill="#f9e624"/>
<rect x="363.14" y="148.80" width="5.73" height="2.40" fill="#f9e624"/>
<rect x="368.87" y="237.60" width="5.73" height="2.40" fill="#ede521"/>
<rect x="368.87" y="235.20" width="5.73" height="2.40" fill="#61c960"/>
<rect x="368.87" y="232.80" width="5.73" height="2.40" fill="#29798e"/>
<rect x="368.87" y="230.40" width="5.73" height="2.40" fill="#38588c"/>
<rect x="368.87" y="228.00" width="5.73" height="2.40" fill="#2d6e8e"/>
<rect x="368.87" y="225.60" width="5.73" height="2.40" fill="#20988a"/>
<rect x="368.87" y="223.20" width="5.73" height="2.40" fill="#59c765"/>
<rect x="368.87" y="220.80" width="5.73" height="2.40" fill="#a8dc33"/>
<rect x="368.87" y="218.40" width="5.73" height="2.40" fill="#d4e21b"/>
<rect x="368.87" y="216.00" width="5.73" height="2.40" fill="#f2e622"/>
<rect x="368.87" y="213.60" width="5.73" height="2.40" fill="#f2e622"/>
<rect x="368.87" y="211.20" width="5.73" height="2.40" fill="#f2e622"/>
<rect x="368.87" y="208.80" width="5.73" height="2.40" fill="#f2e622"/>
<rect x="368.87" y="206.40" width="5.73" height="2.40" fill="#f2e622"/>
<rect x="368.87" y="204.00" width="5.73" height="2.40" fill="#f2e622"/>
<rect x="368.87" y="201.60" width="5.73" height="2.40" fill="#f2e622"/>
<rect x="368.87" y="199.20" width="5.73" height="2.40" fill="#f2e622"/>
<rect x="368.87" y="196.80" width="5.73" height="2.40" fill="#f2e622"/>
<rect x="368.87" y="192.00" width="5.73" height="2.40" fill="#f2e622"/>
<rect x="368.87" y="187.20" width="5.73" height="2.40" fill="#f2e622"/>
<rect x="368.87" y="129.60" width="5.73" height="2.40" fill="#f9e624"/>
<rect x="368.87" y="153.60" width="5.73" height="2.40" fill="#f9e624"/>
<rect x="374.60" y="237.60" width="5.73" height="2.40" fill="#f2e622"/>
<rect x="374.60" y="235.20" width="5.73" height="2.40" fill="#bbde28"/>
<rect x="374.60" y="232.80" width="5.73" height="2.40" fill="#26808e"/>
<rect x="374.60" y="230.40" width="5.73" height="2.40" fill="#31678d"/>
<rect x="374.60" y="228.00" width="5.73" height="2.40" fill="#31678d"/>
<rect x="374.60" y="225.60" width="5.73" height="2.40" fill="#20988a"/>
<rect x="374.60" y="223.20" width="5.73" height="2.40" fill="#7ad151"/>
<rect x="374.60" y="220.80" width="5.73" height="2.40" fill="#bbde28"/>
<rect x="374.60" y="218.40" width="5.73" height="2.40" fill="#dde31c"/>
<rect x="374.60" y="216.00" width="5.73" height="2.40" fill="#f2e622"/>
<rect x="374.60" y="213.60" width="5.73" height="2.40" fill="#f2e622"/>
<rect x="374.60" y="211.20" width="5.73" height="2.40" fill="#f2e622"/>
<rect x="374.60" y="208.80" width="5.73" height="2.40" fill="#f2e622"/>
<rect x="374.60" y="206.40" width="5.73" height="2.40" fill="#f2e622"/>
<rect x="374.60" y="204.00" width="5.73" height="2.40" fill="#f2e622"/>
<rect x="374.60" y="201.60" width="5.73" height="2.40" fill="#f2e622"/>
<rect x="374.60" y="199.20" width="5.73" height="2.40" fill="#f2e622"/>
<rect x="374.60" y="196.80" width="5.73" height="2.40" fill="#f2e622"/>
<rect x="374.60" y="192.00" width="5.73" height="2.40" fill="#f2e622"/>
<rect x="374.60" y="189.60" width="5.73" height="2.40" fill="#f2e622"/>
<rect x="374.60" y="187.20" width="5.73" height="2.40" fill="#f2e622"/>
<rect x="374.60" y="132.00" width="5.73" height="2.40" fill="#f9e624"/>
<rect x="374.60" y="158.40" width="5.73" height="2.40" fill="#f9e624"/>
<rect x="380.34" y="237.60" width="5.73" height="2.40" fill="#f2e622"/>
<rect x="380.34" y="235.20" width="5.73" height="2.40" fill="#440154"/>
<rect x="380.34" y="232.80" width="5.73" height="2.40" fill="#472473"/>
<rect x="380.34" y="230.40" width="5.73" height="2.40" fill="#414386"/>
<rect x="380.34" y="228.00" width="5.73" height="2.40" fill="#39568c"/>
<rect x="380.34" y="225.60" width="5.73" height="2.40" fill="#21908d"/>
<rect x="380.34" y="223.20" width="5.73" height="2.40" fill="#a5db36"/>
<rect x="380.34" y="220.80" width="5.73" height="2.40" fill="#d2e21c"/>
<rect x="380.34" y="218.40" width="5.73" height="2.40" fill="#e8e41f"/>
<rect x="380.34" y="216.00" width="5.73" height="2.40" fill="#f2e622"/>
<rect x="380.34" y="213.60" width="5.73" height="2.40" fill="#f2e622"/>
<rect x="380.34" y="211.20" width="5.73" height="2.40" fill="#f2e622"/>
<rect x="380.34" y="208.80" width="5.73" height="2.40" fill="#f2e622"/>
<rect x="380.34" y="206.40" width="5.73" height="2.40" fill="#f2e622"/>
<rect x="380.34" y="204.00" width="5.73" height="2.40" fill="#f2e622"/>
<rect x="380.34" y="201.60" width="5.73" height="2.40" fill="#f2e622"/>
<rect x="380.34" y="199.20" width="5.73" height="2.40" fill="#f2e622"/>
<rect x="380.34" y="196.80" width="5.73" height="2.40" fill="#f2e622"/>
<rect x="380.34" y="194.40" width="5.73" height="2.40" fill="#f2e622"/>
<rect x="380.34" y="192.00" width="5.73" height="2.40" fill="#f2e622"/>
<rect x="380.34" y="189.60" width="5.73" height="2.40" fill="#f2e622"/>
<rect x="380.34" y="139.20" width="5.73" height="2.40" fill="#f9e624"/>
<rect x="380.34" y="163.20" width="5.73" height="2.40" fill="#f9e624"/>
<rect x="386.07" y="237.60" width="5.73" height="2.40" fill="#f2e622"/>
<rect x="386.07" y="235.20" width="5.73" height="2.40" fill="#440154"/>
<rect x="386.07" y="232.80" width="5.73" height="2.40" fill="#472473"/>
<rect x="386.07" y="230.40" width="5.73" height="2.40" fill="#414386"/>
<rect x="386.07" y="228.00" width="5.73" height="2.40" fill="#39568c"/>
<rect x="386.07" y="225.60" width="5.73" height="2.40" fill="#21908d"/>
<rect x="386.07" y="223.20" width="5.73" height="2.40" fill="#a5db36"/>
<rect x="386.07" y="220.80" width="5.73" height="2.40" fill="#d2e21c"/>
<rect x="386.07" y="218.40" width="5.73" height="2.40" fill="#e8e41f"/>
<rect x="386.07" y="216.00" width="5.73" height="2.40" fill="#f2e622"/>
<rect x="386.07" y="213.60" width="5.73" height="2.40" fill="#f2e622"/>
<rect x="386.07" y="211.20" width="5.73" height="2.40" fill="#f2e622"/>
<rect x="386.07" y="208.80" width="5.73" height="2.40" fill="#f2e622"/>
<rect x="386.07" y="206.40" width="5.73" height="2.40" fill="#f2e622"/>
<rect x="386.07" y="204.00" width="5.73" height="2.40" fill="#f2e622"/>
<rect x="386.07" y="201.60" width="5.73" height="2.40" fill="#f2e622"/>
<rect x="386.07" y="199.20" width="5.73" height="2.40" fill="#f2e622"/>
<rect x="386.07" y="196.80" width="5.73" height="2.40" fill="#f2e622"/>
<rect x="386.07" y="194.40" width="5.73" height="2.40" fill="#f2e622"/>
<rect x="386.07" y="192.00" width="5.73" height="2.40" fill="#f2e622"/>
<rect x="386.07" y="189.60" width="5.73" height="2.40" fill="#f2e622"/>
<rect x="386.07" y="187.20" width="5.73" height="2.40" fill="#f2e622"/>
<rect x="386.07" y="184.80" width="5.73" height="2.40" fill="#f2e622"/>
<rect x="386.07" y="146.40" width="5.73" height="2.40" fill="#f9e624"/>
<rect x="386.07" y="165.60" width="5.73" height="2.40" fill="#f9e624"/>
<rect x="391.80" y="237.60" width="5.73" height="2.40" fill="#f2e622"/>
<rect x="391.80" y="235.20" width="5.73" height="2.40" fill="#440154"/>
<rect x="391.80" y="232.80" width="5.73" height="2.40" fill="#472473"/>
<rect x="391.80" y="230.40" width="5.73" height="2.40" fill="#414386"/>
<rect x="391.80" y="228.00" width="5.73" height="2.40" fill="#39568c"/>
<rect x="391.80" y="225.60" width="5.73" height="2.40" fill="#21908d"/>
<rect x="391.80" y="223.20" width="5.73" height="2.40" fill="#a5db36"/>
<rect x="391.80" y="220.80" width="5.73" height="2.40" fill="#d2e21c"/>
<rect x="391.80" y="218.40" width="5.73" height="2.40" fill="#e8e41f"/>
<rect x="391.80" y="216.00" width="5.73" height="2.40" fill="#f2e622"/>
<rect x="391.80" y="213.60" width="5.73" height="2.40" fill="#f2e622"/>
<rect x="391.80" y="208.80" width="5.73" height="2.40" fill="#f2e622"/>
<rect x="391.80" y="206.40" width="5.73" height="2.40" fill="#f2e622"/>
<rect x="391.80" y="204.00" width="5.73" height="2.40" fill="#f2e622"/>
<rect x="391.80" y="201.60" width="5.73" height="2.40" fill="#f2e622"/>
<rect x="391.80" y="199.20" width="5.73" height="2.40" fill="#f2e622"/>
<rect x="391.80" y="192.00" width="5.73" height="2.40" fill="#f2e622"/>
<rect x="391.80" y="187.20" width="5.73" height="2.40" fill="#f2e622"/>
<rect x="391.80" y="184.80" width="5.73" height="2.40" fill="#f2e622"/>
<rect x="391.80" y="151.20" width="5.73" height="2.40" fill="#f9e624"/>
<rect x="391.80" y="168.00" width="5.73" height="2.40" fill="#f9e624"/>
<rect x="397.54" y="237.60" width="5.73" height="2.40" fill="#f2e622"/>
<rect x="397.54" y="235.20" width="5.73" height="2.40" fill="#440154"/>
<rect x="397.54" y="232.80" width="5.73" height="2.40" fill="#472473"/>
<rect x="397.54" y="230.40" width="5.73" height="2.40" fill="#414386"/>
<rect x="397.54" y="228.00" width="5.73" height="2.40" fill="#39568c"/>
<rect x="397.54" y="225.60" width="5.73" height="2.40" fill="#21908d"/>
<rect x="397.54" y="223.20" width="5.73" height="2.40" fill="#a5db36"/>
<rect x="397.54" y="220.80" width="5.73" height="2.40" fill="#d2e21c"/>
<rect x="397.54" y="218.40" width="5.73" height="2.40" fill="#e8e41f"/>
<rect x="397.54" y="216.00" width="5.73" height="2.40" fill="#f2e622"/>
<rect x="397.54" y="213.60" width="5.73" height="2.40" fill="#f2e622"/>
<rect x="397.54" y="208.80" width="5.73" height="2.40" fill="#f2e622"/>
<rect x="397.54" y="206.40" width="5.73" height="2.40" fill="#f2e622"/>
<rect x="397.54" y="204.00" width="5.73" height="2.40" fill="#f2e622"/>
<rect x="397.54" y="201.60" width="5.73" height="2.40" fill="#f2e622"/>
<rect x="397.54" y="199.20" width="5.73" height="2.40" fill="#f2e622"/>
<rect x="397.54" y="194.40" width="5.73" height="2.40" fill="#f2e622"/>
<rect x="397.54" y="187.20" width="5.73" height="2.40" fill="#f2e622"/>
<rect x="397.54" y="184.80" width="5.73" height="2.40" fill="#f2e622"/>
<rect x="397.54" y="156.00" width="5.73" height="2.40" fill="#f9e624"/>
<rect x="397.54" y="172.80" width="5.73" height="2.40" fill="#f9e624"/>
<rect x="403.27" y="237.60" width="5.73" height="2.40" fill="#f2e622"/>
<rect x="403.27" y="235.20" width="5.73" height="2.40" fill="#440154"/>
<rect x="403.27" y="232.80" width="5.73" height="2.40" fill="#472473"/>
<rect x="403.27" y="230.40" width="5.73" height="2.40" fill="#414386"/>
<rect x="403.27" y="228.00" width="5.73" height="2.40" fill="#39568c"/>
<rect x="403.27" y="225.60" width="5.73" height="2.40" fill="#21908d"/>
<rect x="403.27" y="223.20" width="5.73" height="2.40" fill="#a5db36"/>
<rect x="403.27" y="220.80" width="5.73" height="2.40" fill="#d2e21c"/>
<rect x="403.27" y="218.40" width="5.73" height="2.40" fill="#e8e41f"/>
<rect x="403.27" y="216.00" width="5.73" height="2.40" fill="#f2e622"/>
<rect x="403.27" y="213.60" width="5.73" height="2.40" fill="#f2e622"/>
<rect x="403.27" y="211.20" width="5.73" height="2.40" fill="#f2e622"/>
<rect x="403.27" y="208.80" width="5.73" height="2.40" fill="#f2e622"/>
<rect x="403.27" y="206.40" width="5.73" height="2.40" fill="#f2e622"/>
<rect x="403.27" y="201.60" width="5.73" height="2.40" fill="#f2e622"/>
<rect x="403.27" y="199.20" width="5.73" height="2.40" fill="#f2e622"/>
<rect x="403.27" y="196.80" width="5.73" height="2.40" fill="#f2e622"/>
<rect x="403.27" y="192.00" width="5.73" height="2.40" fill="#f2e622"/>
<rect x="403.27" y="182.40" width="5.73" height="2.40" fill="#f2e622"/>
<rect x="403.27" y="160.80" width="5.73" height="2.40" fill="#f9e624"/>
<rect x="403.27" y="175.20" width="5.73" height="2.40" fill="#f9e624"/>
<rect x="409.01" y="237.60" width="5.73" height="2.40" fill="#f2e622"/>
<rect x="409.01" y="235.20" width="5.73" height="2.40" fill="#440154"/>
<rect x="409.01" y="232.80" width="5.73" height="2.40" fill="#472473"/>
<rect x="409.01" y="230.40" width="5.73" height="2.40" fill="#414386"/>
<rect x="409.01" y="228.00" width="5.73" height="2.40" fill="#39568c"/>
<rect x="409.01" y="225.60" width="5.73" height="2.40" fill="#21908d"/>
<rect x="409.01" y="223.20" width="5.73" height="2.40" fill="#a5db36"/>
<rect x="409.01" y="220.80" width="5.73" height="2.40" fill="#d2e21c"/>
<rect x="409.01" y="218.40" width="5.73" height="2.40" fill="#e8e41f"/>
<rect x="409.01" y="216.00" width="5.73" height="2.40" fill="#f2e622"/>
<rect x="409.01" y="213.60" width="5.73" height="2.40" fill="#f2e622"/>
<rect x="409.01" y="211.20" width="5.73" height="2.40" fill="#f2e622"/>
<rect x="409.01" y="208.80" width="5.73" height="2.40" fill="#f2e622"/>
<rect x="409.01" y="206.40" width="5.73" height="2.40" fill="#f2e622"/>
<rect x="409.01" y="204.00" width="5.73" height="2.40" fill="#f2e622"/>
<rect x="409.01" y="201.60" width="5.73" height="2.40" fill="#f2e622"/>
<rect x="409.01" y="199.20" width="5.73" height="2.40" fill="#f2e622"/>
<rect x="409.01" y="196.80" width="5.73" height="2.40" fill="#f2e622"/>
<rect x="409.01" y="192.00" width="5.73" height="2.40" fill="#f2e622"/>
<rect x="409.01" y="189.60" width="5.73" height="2.40" fill="#f2e622"/>
<rect x="409.01" y="165.60" width="5.73" height="2.40" fill="#f9e624"/>
<rect x="409.01" y="180.00" width="5.73" height="2.40" fill="#f9e624"/>
<rect x="414.74" y="237.60" width="5.73" height="2.40" fill="#efe521"/>
<rect x="414.74" y="235.20" width="5.73" height="2.40" fill="#2fb27d"/>
<rect x="414.74" y="232.80" width="5.73" height="2.40" fill="#3a548b"/>
<rect x="414.74" y="230.40" width="5.73" height="2.40" fill="#424085"/>
<rect x="414.74" y="228.00" width="5.73" height="2.40" fill="#34608d"/>
<rect x="414.74" y="225.60" width="5.73" height="2.40" fill="#20948c"/>
<rect x="414.74" y="223.20" width="5.73" height="2.40" fill="#78d052"/>
<rect x="414.74" y="220.80" width="5.73" height="2.40" fill="#b2dd2d"/>
<rect x="414.74" y="218.40" width="5.73" height="2.40" fill="#cee11e"/>
<rect x="414.74" y="216.00" width="5.73" height="2.40" fill="#e4e41e"/>
<rect x="414.74" y="213.60" width="5.73" height="2.40" fill="#f0e521"/>
<rect x="414.74" y="211.20" width="5.73" height="2.40" fill="#f2e622"/>
<rect x="414.74" y="208.80" width="5.73" height="2.40" fill="#f2e622"/>
<rect x="414.74" y="206.40" width="5.73" height="2.40" fill="#f2e622"/>
<rect x="414.74" y="204.00" width="5.73" height="2.40" fill="#f2e622"/>
<rect x="414.74" y="201.60" width="5.73" height="2.40" fill="#f2e622"/>
<rect x="414.74" y="196.80" width="5.73" height="2.40" fill="#f2e622"/>
<rect x="414.74" y="194.40" width="5.73" height="2.40" fill="#f2e622"/>
<rect x="414.74" y="192.00" width="5.73" height="2.40" fill="#f3e622"/>
<rect x="414.74" y="184.80" width="5.73" height="2.40" fill="#f3e622"/>
<rect x="414.74" y="170.40" width="5.73" height="2.40" fill="#f9e624"/>
<rect x="420.47" y="237.60" width="5.73" height="2.40" fill="#e9e41f"/>
<rect x="420.47" y="235.20" width="5.73" height="2.40" fill="#5ac764"/>
<rect x="420.47" y="232.80" width="5.73" height="2.40" fill="#29788e"/>
<rect x="420.47" y="230.40" width="5.73" height="2.40" fill="#3a538b"/>
<rect x="420.47" y="228.00" width="5.73" height="2.40" fill="#32638d"/>
<rect x="420.47" y="225.60" width="5.73" height="2.40" fill="#228c8d"/>
<rect x="420.47" y="223.20" width="5.73" height="2.40" fill="#4cc26c"/>
<rect x="420.47" y="220.80" width="5.73" height="2.40" fill="#9cd93b"/>
<rect x="420.47" y="218.40" width="5.73" height="2.40" fill="#c1df25"/>
<rect x="420.47" y="216.00" width="5.73" height="2.40" fill="#dae31b"/>
<rect x="420.47" y="213.60" width="5.73" height="2.40" fill="#eae520"/>
<rect x="420.47" y="211.20" width="5.73" height="2.40" fill="#f1e622"/>
<rect x="420.47" y="208.80" width="5.73" height="2.40" fill="#f2e622"/>
<rect x="420.47" y="206.40" width="5.73" height="2.40" fill="#f2e622"/>
<rect x="420.47" y="204.00" width="5.73" height="2.40" fill="#f2e622"/>
<rect x="420.47" y="201.60" width="5.73" height="2.40" fill="#f2e622"/>
<rect x="420.47" y="199.20" width="5.73" height="2.40" fill="#f2e622"/>
<rect x="420.47" y="194.40" width="5.73" height="2.40" fill="#f2e622"/>
<rect x="420.47" y="192.00" width="5.73" height="2.40" fill="#f5e623"/>
<rect x="420.47" y="175.20" width="5.73" height="2.40" fill="#f9e624"/>
<rect x="426.21" y="237.60" width="5.73" height="2.40" fill="#e8e41f"/>
<rect x="426.21" y="235.20" width="5.73" height="2.40" fill="#86d449"/>
<rect x="426.21" y="232.80" width="5.73" height="2.40" fill="#20978b"/>
<rect x="426.21" y="230.40" width="5.73" height="2.40" fill="#32658d"/>
<rect x="426.21" y="228.00" width="5.73" height="2.40" fill="#30688d"/>
<rect x="426.21" y="225.60" width="5.73" height="2.40" fill="#24878e"/>
<rect x="426.21" y="223.20" width="5.73" height="2.40" fill="#30b37b"/>
<rect x="426.21" y="220.80" width="5.73" height="2.40" fill="#83d34c"/>
<rect x="426.21" y="218.40" width="5.73" height="2.40" fill="#b1dd2e"/>
<rect x="426.21" y="216.00" width="5.73" height="2.40" fill="#cfe11d"/>
<rect x="426.21" y="213.60" width="5.73" height="2.40" fill="#e3e41e"/>
<rect x="426.21" y="211.20" width="5.73" height="2.40" fill="#efe521"/>
<rect x="426.21" y="208.80" width="5.73" height="2.40" fill="#f2e622"/>
<rect x="426.21" y="206.40" width="5.73" height="2.40" fill="#f2e622"/>
<rect x="426.21" y="204.00" width="5.73" height="2.40" fill="#f2e622"/>
<rect x="426.21" y="201.60" width="5.73" height="2.40" fill="#f2e622"/>
<rect x="426.21" y="199.20" width="5.73" height="2.40" fill="#f2e622"/>
<rect x="426.21" y="196.80" width="5.73" height="2.40" fill="#f2e622"/>
<rect x="426.21" y="177.60" width="5.73" height="2.40" fill="#f9e624"/>
<rect x="431.94" y="237.60" width="5.73" height="2.40" fill="#ebe520"/>
<rect x="431.94" y="235.20" width="5.73" height="2.40" fill="#a9dc33"/>
<rect x="431.94" y="232.80" width="5.73" height="2.40" fill="#2db17d"/>
<rect x="431.94" y="230.40" width="5.73" height="2.40" fill="#2a778e"/>
<rect x="431.94" y="228.00" width="5.73" height="2.40" fill="#2d6f8e"/>
<rect x="431.94" y="225.60" width="5.73" height="2.40" fill="#24868e"/>
<rect x="431.94" y="223.20" width="5.73" height="2.40" fill="#24a884"/>
<rect x="431.94" y="220.80" width="5.73" height="2.40" fill="#6acc5b"/>
<rect x="431.94" y="218.40" width="5.73" height="2.40" fill="#a0da39"/>
<rect x="431.94" y="216.00" width="5.73" height="2.40" fill="#c5e023"/>
<rect x="431.94" y="213.60" width="5.73" height="2.40" fill="#dbe31c"/>
<rect x="431.94" y="211.20" width="5.73" height="2.40" fill="#ece520"/>
<rect x="431.94" y="208.80" width="5.73" height="2.40" fill="#f2e622"/>
<rect x="431.94" y="206.40" width="5.73" height="2.40" fill="#f2e622"/>
<rect x="431.94" y="204.00" width="5.73" height="2.40" fill="#f2e622"/>
<rect x="431.94" y="201.60" width="5.73" height="2.40" fill="#f2e622"/>
<rect x="431.94" y="199.20" width="5.73" height="2.40" fill="#f2e622"/>
<rect x="431.94" y="196.80" width="5.73" height="2.40" fill="#f2e622"/>
<rect x="431.94" y="180.00" width="5.73" height="2.40" fill="#f9e624"/>
<rect x="437.67" y="237.60" width="5.73" height="2.40" fill="#f2e622"/>
<rect x="437.67" y="235.20" width="5.73" height="2.40" fill="#bbde28"/>
<rect x="437.67" y="232.80" width="5.73" height="2.40" fill="#54c567"/>
<rect x="437.67" y="230.40" width="5.73" height="2.40" fill="#238a8d"/>
<rect x="437.67" y="228.00" width="5.73" height="2.40" fill="#297a8e"/>
<rect x="437.67" y="225.60" width="5.73" height="2.40" fill="#23898d"/>
<rect x="437.67" y="223.20" width="5.73" height="2.40" fill="#20a088"/>
<rect x="437.67" y="220.80" width="5.73" height="2.40" fill="#52c468"/>
<rect x="437.67" y="218.40" width="5.73" height="2.40" fill="#8dd645"/>
<rect x="437.67" y="216.00" width="5.73" height="2.40" fill="#b9de29"/>
<rect x="437.67" y="213.60" width="5.73" height="2.40" fill="#d0e11d"/>
<rect x="437.67" y="211.20" width="5.73" height="2.40" fill="#e6e41f"/>
<rect x="437.67" y="208.80" width="5.73" height="2.40" fill="#f1e622"/>
<rect x="437.67" y="206.40" width="5.73" height="2.40" fill="#f1e622"/>
<rect x="437.67" y="204.00" width="5.73" height="2.40" fill="#f2e622"/>
<rect x="437.67" y="199.20" width="5.73" height="2.40" fill="#f2e622"/>
<rect x="437.67" y="192.00" width="5.73" height="2.40" fill="#f2e622"/>
<rect x="437.67" y="182.40" width="5.73" height="2.40" fill="#f9e624"/>
<rect x="443.41" y="237.60" width="5.73" height="2.40" fill="#f3e622"/>
<rect x="443.41" y="235.20" width="5.73" height="2.40" fill="#bbde28"/>
<rect x="443.41" y="232.80" width="5.73" height="2.40" fill="#5cc863"/>
<rect x="443.41" y="230.40" width="5.73" height="2.40" fill="#1f9f88"/>
<rect x="443.41" y="228.00" width="5.73" height="2.40" fill="#218f8d"/>
<rect x="443.41" y="225.60" width="5.73" height="2.40" fill="#21948c"/>
<rect x="443.41" y="223.20" width="5.73" height="2.40" fill="#20a088"/>
<rect x="443.41" y="220.80" width="5.73" height="2.40" fill="#44bf70"/>
<rect x="443.41" y="218.40" width="5.73" height="2.40" fill="#7ad151"/>
<rect x="443.41" y="216.00" width="5.73" height="2.40" fill="#a5db35"/>
<rect x="443.41" y="213.60" width="5.73" height="2.40" fill="#bcdf28"/>
<rect x="443.41" y="211.20" width="5.73" height="2.40" fill="#d3e21b"/>
<rect x="443.41" y="208.80" width="5.73" height="2.40" fill="#e3e41e"/>
<rect x="443.41" y="206.40" width="5.73" height="2.40" fill="#e3e41e"/>
<rect x="443.41" y="204.00" width="5.73" height="2.40" fill="#ede521"/>
<rect x="443.41" y="199.20" width="5.73" height="2.40" fill="#f2e622"/>
<rect x="443.41" y="194.40" width="5.73" height="2.40" fill="#f2e622"/>
<rect x="443.41" y="192.00" width="5.73" height="2.40" fill="#f2e622"/>
<rect x="443.41" y="184.80" width="5.73" height="2.40" fill="#f9e624"/>
<rect x="449.14" y="237.60" width="5.73" height="2.40" fill="#f4e623"/>
<rect x="449.14" y="235.20" width="5.73" height="2.40" fill="#bbde28"/>
<rect x="449.14" y="232.80" width="5.73" height="2.40" fill="#64ca5e"/>
<rect x="449.14" y="230.40" width="5.73" height="2.40" fill="#30b37c"/>
<rect x="449.14" y="228.00" width="5.73" height="2.40" fill="#22a486"/>
<rect x="449.14" y="225.60" width="5.73" height="2.40" fill="#1f9e88"/>
<rect x="449.14" y="223.20" width="5.73" height="2.40" fill="#20a088"/>
<rect x="449.14" y="220.80" width="5.73" height="2.40" fill="#37b877"/>
<rect x="449.14" y="218.40" width="5.73" height="2.40" fill="#69cc5b"/>
<rect x="449.14" y="216.00" width="5.73" height="2.40" fill="#92d742"/>
<rect x="449.14" y="213.60" width="5.73" height="2.40" fill="#a8dc33"/>
<rect x="449.14" y="211.20" width="5.73" height="2.40" fill="#bfdf26"/>
<rect x="449.14" y="208.80" width="5.73" height="2.40" fill="#d5e21a"/>
<rect x="449.14" y="206.40" width="5.73" height="2.40" fill="#d5e21a"/>
<rect x="449.14" y="204.00" width="5.73" height="2.40" fill="#e8e41f"/>
<rect x="449.14" y="201.60" width="5.73" height="2.40" fill="#e8e41f"/>
<rect x="449.14" y="199.20" width="5.73" height="2.40" fill="#f2e622"/>
<rect x="449.14" y="196.80" width="5.73" height="2.40" fill="#f2e622"/>
<rect x="449.14" y="194.40" width="5.73" height="2.40" fill="#f2e622"/>
<rect x="449.14" y="192.00" width="5.73" height="2.40" fill="#f2e622"/>
<rect x="454.87" y="235.20" width="5.73" height="2.40" fill="#c0df26"/>
<rect x="454.87" y="232.80" width="5.73" height="2.40" fill="#75d054"/>
<rect x="454.87" y="230.40" width="5.73" height="2.40" fill="#46c06f"/>
<rect x="454.87" y="228.00" width="5.73" height="2.40" fill="#2cb07e"/>
<rect x="454.87" y="225.60" width="5.73" height="2.40" fill="#23a685"/>
<rect x="454.87" y="223.20" width="5.73" height="2.40" fill="#22a485"/>
<rect x="454.87" y="220.80" width="5.73" height="2.40" fill="#2cb17e"/>
<rect x="454.87" y="218.40" width="5.73" height="2.40" fill="#47c06f"/>
<rect x="454.87" y="216.00" width="5.73" height="2.40" fill="#66cb5d"/>
<rect x="454.87" y="213.60" width="5.73" height="2.40" fill="#8bd547"/>
<rect x="454.87" y="211.20" width="5.73" height="2.40" fill="#9cd93b"/>
<rect x="454.87" y="208.80" width="5.73" height="2.40" fill="#b2dd2d"/>
<rect x="454.87" y="206.40" width="5.73" height="2.40" fill="#c0df26"/>
<rect x="454.87" y="204.00" width="5.73" height="2.40" fill="#d7e21a"/>
<rect x="454.87" y="201.60" width="5.73" height="2.40" fill="#dfe31d"/>
<rect x="454.87" y="199.20" width="5.73" height="2.40" fill="#eae520"/>
<rect x="454.87" y="196.80" width="5.73" height="2.40" fill="#eee521"/>
<rect x="454.87" y="194.40" width="5.73" height="2.40" fill="#f2e622"/>
<rect x="454.87" y="192.00" width="5.73" height="2.40" fill="#f2e622"/>
<rect x="460.61" y="235.20" width="5.73" height="2.40" fill="#c5e023"/>
<rect x="460.61" y="232.80" width="5.73" height="2.40" fill="#89d548"/>
<rect x="460.61" y="230.40" width="5.73" height="2.40" fill="#5ec962"/>
<rect x="460.61" y="228.00" width="5.73" height="2.40" fill="#3dbc74"/>
<rect x="460.61" y="225.60" width="5.73" height="2.40" fill="#27ad81"/>
<rect x="460.61" y="223.20" width="5.73" height="2.40" fill="#25aa83"/>
<rect x="460.61" y="220.80" width="5.73" height="2.40" fill="#25a983"/>
<rect x="460.61" y="218.40" width="5.73" height="2.40" fill="#2bb07f"/>
<rect x="460.61" y="216.00" width="5.73" height="2.40" fill="#3dbc74"/>
<rect x="460.61" y="213.60" width="5.73" height="2.40" fill="#6dcd59"/>
<rect x="460.61" y="211.20" width="5.73" height="2.40" fill="#79d052"/>
<rect x="460.61" y="208.80" width="5.73" height="2.40" fill="#8dd645"/>
<rect x="460.61" y="206.40" width="5.73" height="2.40" fill="#aadc32"/>
<rect x="460.61" y="204.00" width="5.73" height="2.40" fill="#c1df25"/>
<rect x="460.61" y="201.60" width="5.73" height="2.40" fill="#d5e21a"/>
<rect x="460.61" y="199.20" width="5.73" height="2.40" fill="#e0e31d"/>
<rect x="460.61" y="196.80" width="5.73" height="2.40" fill="#e9e520"/>
<rect x="460.61" y="194.40" width="5.73" height="2.40" fill="#f2e622"/>
<rect x="460.61" y="192.00" width="5.73" height="2.40" fill="#f2e622"/>
<rect x="460.61" y="189.60" width="5.73" height="2.40" fill="#f4e622"/>
<rect x="466.34" y="235.20" width="5.73" height="2.40" fill="#cfe11e"/>
<rect x="466.34" y="232.80" width="5.73" height="2.40" fill="#94d741"/>
<rect x="466.34" y="230.40" width="5.73" height="2.40" fill="#66cb5d"/>
<rect x="466.34" y="228.00" width="5.73" height="2.40" fill="#47c06e"/>
<rect x="466.34" y="225.60" width="5.73" height="2.40" fill="#2aaf7f"/>
<rect x="466.34" y="223.20" width="5.73" height="2.40" fill="#26ab82"/>
<rect x="466.34" y="220.80" width="5.73" height="2.40" fill="#24a784"/>
<rect x="466.34" y="218.40" width="5.73" height="2.40" fill="#26ab82"/>
<rect x="466.34" y="216.00" width="5.73" height="2.40" fill="#36b778"/>
<rect x="466.34" y="213.60" width="5.73" height="2.40" fill="#66cb5d"/>
<rect x="466.34" y="211.20" width="5.73" height="2.40" fill="#70ce57"/>
<rect x="466.34" y="208.80" width="5.73" height="2.40" fill="#84d44b"/>
<rect x="466.34" y="206.40" width="5.73" height="2.40" fill="#a5db36"/>
<rect x="466.34" y="204.00" width="5.73" height="2.40" fill="#bbde28"/>
<rect x="466.34" y="201.60" width="5.73" height="2.40" fill="#d2e21c"/>
<rect x="466.34" y="199.20" width="5.73" height="2.40" fill="#dde31c"/>
<rect x="466.34" y="196.80" width="5.73" height="2.40" fill="#e8e41f"/>
<rect x="466.34" y="194.40" width="5.73" height="2.40" fill="#f1e522"/>
<rect x="466.34" y="192.00" width="5.73" height="2.40" fill="#f2e622"/>
<rect x="466.34" y="189.60" width="5.73" height="2.40" fill="#f2e622"/>
<rect x="472.07" y="235.20" width="5.73" height="2.40" fill="#d9e31b"/>
<rect x="472.07" y="232.80" width="5.73" height="2.40" fill="#9bd93c"/>
<rect x="472.07" y="230.40" width="5.73" height="2.40" fill="#66cb5d"/>
<rect x="472.07" y="228.00" width="5.73" height="2.40" fill="#4cc26c"/>
<rect x="472.07" y="225.60" width="5.73" height="2.40" fill="#2aaf7f"/>
<rect x="472.07" y="223.20" width="5.73" height="2.40" fill="#26ab82"/>
<rect x="472.07" y="220.80" width="5.73" height="2.40" fill="#24a784"/>
<rect x="472.07" y="218.40" width="5.73" height="2.40" fill="#26ab82"/>
<rect x="472.07" y="216.00" width="5.73" height="2.40" fill="#36b778"/>
<rect x="472.07" y="213.60" width="5.73" height="2.40" fill="#66cb5d"/>
<rect x="472.07" y="211.20" width="5.73" height="2.40" fill="#70ce57"/>
<rect x="472.07" y="208.80" width="5.73" height="2.40" fill="#84d44b"/>
<rect x="472.07" y="206.40" width="5.73" height="2.40" fill="#a5db36"/>
<rect x="472.07" y="204.00" width="5.73" height="2.40" fill="#bbde28"/>
<rect x="472.07" y="201.60" width="5.73" height="2.40" fill="#d2e21c"/>
<rect x="472.07" y="199.20" width="5.73" height="2.40" fill="#dde31c"/>
<rect x="472.07" y="196.80" width="5.73" height="2.40" fill="#e8e41f"/>
<rect x="472.07" y="194.40" width="5.73" height="2.40" fill="#efe521"/>
<rect x="472.07" y="192.00" width="5.73" height="2.40" fill="#f2e622"/>
<rect x="472.07" y="189.60" width="5.73" height="2.40" fill="#f2e622"/>
<rect x="477.81" y="235.20" width="5.73" height="2.40" fill="#e4e41e"/>
<rect x="477.81" y="232.80" width="5.73" height="2.40" fill="#a2da37"/>
<rect x="477.81" y="230.40" width="5.73" height="2.40" fill="#66cb5d"/>
<rect x="477.81" y="228.00" width="5.73" height="2.40" fill="#52c469"/>
<rect x="477.81" y="225.60" width="5.73" height="2.40" fill="#2aaf7f"/>
<rect x="477.81" y="223.20" width="5.73" height="2.40" fill="#26ab82"/>
<rect x="477.81" y="220.80" width="5.73" height="2.40" fill="#24a784"/>
<rect x="477.81" y="218.40" width="5.73" height="2.40" fill="#26ab82"/>
<rect x="477.81" y="216.00" width="5.73" height="2.40" fill="#36b778"/>
<rect x="477.81" y="213.60" width="5.73" height="2.40" fill="#66cb5d"/>
<rect x="477.81" y="211.20" width="5.73" height="2.40" fill="#70ce57"/>
<rect x="477.81" y="208.80" width="5.73" height="2.40" fill="#84d44b"/>
<rect x="477.81" y="206.40" width="5.73" height="2.40" fill="#a5db36"/>
<rect x="477.81" y="204.00" width="5.73" height="2.40" fill="#bbde28"/>
<rect x="477.81" y="201.60" width="5.73" height="2.40" fill="#d2e21c"/>
<rect x="477.81" y="199.20" width="5.73" height="2.40" fill="#dde31c"/>
<rect x="477.81" y="196.80" width="5.73" height="2.40" fill="#e8e41f"/>
<rect x="477.81" y="194.40" width="5.73" height="2.40" fill="#ede521"/>
<rect x="477.81" y="192.00" width="5.73" height="2.40" fill="#f2e622"/>
<rect x="477.81" y="189.60" width="5.73" height="2.40" fill="#f2e622"/>
<rect x="477.81" y="187.20" width="5.73" height="2.40" fill="#f4e622"/>
<rect x="477.81" y="184.80" width="5.73" height="2.40" fill="#f4e622"/>
<rect x="483.54" y="235.20" width="5.73" height="2.40" fill="#eae520"/>
<rect x="483.54" y="232.80" width="5.73" height="2.40" fill="#aadc32"/>
<rect x="483.54" y="230.40" width="5.73" height="2.40" fill="#66cb5d"/>
<rect x="483.54" y="228.00" width="5.73" height="2.40" fill="#54c568"/>
<rect x="483.54" y="225.60" width="5.73" height="2.40" fill="#2bb07e"/>
<rect x="483.54" y="223.20" width="5.73" height="2.40" fill="#26ac81"/>
<rect x="483.54" y="220.80" width="5.73" height="2.40" fill="#25aa82"/>
<rect x="483.54" y="218.40" width="5.73" height="2.40" fill="#2eb27d"/>
<rect x="483.54" y="216.00" width="5.73" height="2.40" fill="#3fbd73"/>
<rect x="483.54" y="213.60" width="5.73" height="2.40" fill="#6bcc5a"/>
<rect x="483.54" y="211.20" width="5.73" height="2.40" fill="#77d053"/>
<rect x="483.54" y="208.80" width="5.73" height="2.40" fill="#8cd546"/>
<rect x="483.54" y="206.40" width="5.73" height="2.40" fill="#aadc32"/>
<rect x="483.54" y="204.00" width="5.73" height="2.40" fill="#bedf27"/>
<rect x="483.54" y="201.60" width="5.73" height="2.40" fill="#d2e21c"/>
<rect x="483.54" y="199.20" width="5.73" height="2.40" fill="#dde31c"/>
<rect x="483.54" y="196.80" width="5.73" height="2.40" fill="#e8e41f"/>
<rect x="483.54" y="194.40" width="5.73" height="2.40" fill="#ece520"/>
<rect x="483.54" y="192.00" width="5.73" height="2.40" fill="#f2e622"/>
<rect x="483.54" y="189.60" width="5.73" height="2.40" fill="#f2e622"/>
<rect x="483.54" y="187.20" width="5.73" height="2.40" fill="#f5e623"/>
<rect x="483.54" y="184.80" width="5.73" height="2.40" fill="#f5e623"/>
<rect x="489.27" y="235.20" width="5.73" height="2.40" fill="#efe521"/>
<rect x="489.27" y="232.80" width="5.73" height="2.40" fill="#b3dd2d"/>
<rect x="489.27" y="230.40" width="5.73" height="2.40" fill="#66cb5d"/>
<rect x="489.27" y="228.00" width="5.73" height="2.40" fill="#54c568"/>
<rect x="489.27" y="225.60" width="5.73" height="2.40" fill="#2eb27d"/>
<rect x="489.27" y="223.20" width="5.73" height="2.40" fill="#28ae80"/>
<rect x="489.27" y="220.80" width="5.73" height="2.40" fill="#2aaf7f"/>
<rect x="489.27" y="218.40" width="5.73" height="2.40" fill="#40bd73"/>
<rect x="489.27" y="216.00" width="5.73" height="2.40" fill="#53c568"/>
<rect x="489.27" y="213.60" width="5.73" height="2.40" fill="#73cf55"/>
<rect x="489.27" y="211.20" width="5.73" height="2.40" fill="#83d44b"/>
<rect x="489.27" y="208.80" width="5.73" height="2.40" fill="#99d83d"/>
<rect x="489.27" y="206.40" width="5.73" height="2.40" fill="#b3dd2d"/>
<rect x="489.27" y="204.00" width="5.73" height="2.40" fill="#c3df24"/>
<rect x="489.27" y="201.60" width="5.73" height="2.40" fill="#d2e21c"/>
<rect x="489.27" y="199.20" width="5.73" height="2.40" fill="#dde31c"/>
<rect x="489.27" y="196.80" width="5.73" height="2.40" fill="#e8e41f"/>
<rect x="489.27" y="194.40" width="5.73" height="2.40" fill="#ece520"/>
<rect x="489.27" y="192.00" width="5.73" height="2.40" fill="#f2e622"/>
<rect x="489.27" y="189.60" width="5.73" height="2.40" fill="#f2e622"/>
<rect x="495.01" y="235.20" width="5.73" height="2.40" fill="#efe521"/>
<rect x="495.01" y="232.80" width="5.73" height="2.40" fill="#b9de2a"/>
<rect x="495.01" y="230.40" width="5.73" height="2.40" fill="#69cc5b"/>
<rect x="495.01" y="228.00" width="5.73" height="2.40" fill="#43be71"/>
<rect x="495.01" y="225.60" width="5.73" height="2.40" fill="#31b47b"/>
<rect x="495.01" y="223.20" width="5.73" height="2.40" fill="#2cb07e"/>
<rect x="495.01" y="220.80" width="5.73" height="2.40" fill="#34b679"/>
<rect x="495.01" y="218.40" width="5.73" height="2.40" fill="#57c666"/>
<rect x="495.01" y="216.00" width="5.73" height="2.40" fill="#6acc5b"/>
<rect x="495.01" y="213.60" width="5.73" height="2.40" fill="#7dd24f"/>
<rect x="495.01" y="211.20" width="5.73" height="2.40" fill="#93d741"/>
<rect x="495.01" y="208.80" width="5.73" height="2.40" fill="#a8db34"/>
<rect x="495.01" y="206.40" width="5.73" height="2.40" fill="#bcdf28"/>
<rect x="495.01" y="204.00" width="5.73" height="2.40" fill="#c9e021"/>
<rect x="495.01" y="201.60" width="5.73" height="2.40" fill="#d4e21a"/>
<rect x="495.01" y="199.20" width="5.73" height="2.40" fill="#dfe31d"/>
<rect x="495.01" y="196.80" width="5.73" height="2.40" fill="#e9e520"/>
<rect x="495.01" y="194.40" width="5.73" height="2.40" fill="#ede521"/>
<rect x="495.01" y="192.00" width="5.73" height="2.40" fill="#f2e622"/>
<rect x="495.01" y="189.60" width="5.73" height="2.40" fill="#f4e623"/>
<rect x="500.74" y="235.20" width="5.73" height="2.40" fill="#f0e521"/>
<rect x="500.74" y="232.80" width="5.73" height="2.40" fill="#b7de2b"/>
<rect x="500.74" y="230.40" width="5.73" height="2.40" fill="#25a983"/>
<rect x="500.74" y="228.00" width="5.73" height="2.40" fill="#2cb17e"/>
<rect x="500.74" y="225.60" width="5.73" height="2.40" fill="#35b779"/>
<rect x="500.74" y="223.20" width="5.73" height="2.40" fill="#3aba76"/>
<rect x="500.74" y="220.80" width="5.73" height="2.40" fill="#56c666"/>
<rect x="500.74" y="218.40" width="5.73" height="2.40" fill="#6fce58"/>
<rect x="500.74" y="216.00" width="5.73" height="2.40" fill="#83d34c"/>
<rect x="500.74" y="213.60" width="5.73" height="2.40" fill="#99d83d"/>
<rect x="500.74" y="211.20" width="5.73" height="2.40" fill="#a9dc33"/>
<rect x="500.74" y="208.80" width="5.73" height="2.40" fill="#b7de2b"/>
<rect x="500.74" y="206.40" width="5.73" height="2.40" fill="#cae020"/>
<rect x="500.74" y="204.00" width="5.73" height="2.40" fill="#d7e21b"/>
<rect x="500.74" y="201.60" width="5.73" height="2.40" fill="#e2e41e"/>
<rect x="500.74" y="199.20" width="5.73" height="2.40" fill="#ede521"/>
<rect x="500.74" y="196.80" width="5.73" height="2.40" fill="#f0e522"/>
<rect x="500.74" y="194.40" width="5.73" height="2.40" fill="#f2e622"/>
<rect x="506.47" y="232.80" width="5.73" height="2.40" fill="#d4e21b"/>
<rect x="506.47" y="230.40" width="5.73" height="2.40" fill="#3f4687"/>
<rect x="506.47" y="228.00" width="5.73" height="2.40" fill="#26818e"/>
<rect x="506.47" y="225.60" width="5.73" height="2.40" fill="#2cb07e"/>
<rect x="506.47" y="223.20" width="5.73" height="2.40" fill="#47c06f"/>
<rect x="506.47" y="220.80" width="5.73" height="2.40" fill="#66cb5d"/>
<rect x="506.47" y="218.40" width="5.73" height="2.40" fill="#7ad151"/>
<rect x="506.47" y="216.00" width="5.73" height="2.40" fill="#8fd644"/>
<rect x="506.47" y="213.60" width="5.73" height="2.40" fill="#a5db36"/>
<rect x="506.47" y="211.20" width="5.73" height="2.40" fill="#b5dd2c"/>
<rect x="506.47" y="208.80" width="5.73" height="2.40" fill="#c0df26"/>
<rect x="506.47" y="206.40" width="5.73" height="2.40" fill="#d2e21c"/>
<rect x="506.47" y="204.00" width="5.73" height="2.40" fill="#e1e41d"/>
<rect x="506.47" y="201.60" width="5.73" height="2.40" fill="#ece520"/>
<rect x="506.47" y="199.20" width="5.73" height="2.40" fill="#f2e622"/>
<rect x="506.47" y="194.40" width="5.73" height="2.40" fill="#f2e622"/>
<rect x="512.21" y="232.80" width="5.73" height="2.40" fill="#f4e623"/>
<rect x="512.21" y="230.40" width="5.73" height="2.40" fill="#440154"/>
<rect x="512.21" y="228.00" width="5.73" height="2.40" fill="#481769"/>
<rect x="512.21" y="225.60" width="5.73" height="2.40" fill="#24a784"/>
<rect x="512.21" y="223.20" width="5.73" height="2.40" fill="#4ec26b"/>
<rect x="512.21" y="220.80" width="5.73" height="2.40" fill="#6acc5b"/>
<rect x="512.21" y="218.40" width="5.73" height="2.40" fill="#7fd24e"/>
<rect x="512.21" y="216.00" width="5.73" height="2.40" fill="#94d741"/>
<rect x="512.21" y="213.60" width="5.73" height="2.40" fill="#a8dc33"/>
<rect x="512.21" y="211.20" width="5.73" height="2.40" fill="#bedf27"/>
<rect x="512.21" y="208.80" width="5.73" height="2.40" fill="#c9e021"/>
<rect x="512.21" y="206.40" width="5.73" height="2.40" fill="#d4e21b"/>
<rect x="512.21" y="204.00" width="5.73" height="2.40" fill="#e8e41f"/>
<rect x="512.21" y="201.60" width="5.73" height="2.40" fill="#f2e622"/>
<rect x="512.21" y="199.20" width="5.73" height="2.40" fill="#f2e622"/>
<rect x="512.21" y="196.80" width="5.73" height="2.40" fill="#f3e622"/>
<rect x="512.21" y="194.40" width="5.73" height="2.40" fill="#f3e622"/>
<rect x="517.94" y="232.80" width="5.73" height="2.40" fill="#f4e623"/>
<rect x="517.94" y="230.40" width="5.73" height="2.40" fill="#440154"/>
<rect x="517.94" y="228.00" width="5.73" height="2.40" fill="#471163"/>
<rect x="517.94" y="225.60" width="5.73" height="2.40" fill="#24a784"/>
<rect x="517.94" y="223.20" width="5.73" height="2.40" fill="#59c765"/>
<rect x="517.94" y="220.80" width="5.73" height="2.40" fill="#7fd34e"/>
<rect x="517.94" y="218.40" width="5.73" height="2.40" fill="#9cd93b"/>
<rect x="517.94" y="216.00" width="5.73" height="2.40" fill="#afdd2f"/>
<rect x="517.94" y="213.60" width="5.73" height="2.40" fill="#bedf27"/>
<rect x="517.94" y="211.20" width="5.73" height="2.40" fill="#cee11e"/>
<rect x="517.94" y="208.80" width="5.73" height="2.40" fill="#d5e21a"/>
<rect x="517.94" y="206.40" width="5.73" height="2.40" fill="#dde31c"/>
<rect x="517.94" y="204.00" width="5.73" height="2.40" fill="#ebe520"/>
<rect x="517.94" y="194.40" width="5.73" height="2.40" fill="#f6e623"/>
<rect x="523.67" y="232.80" width="5.73" height="2.40" fill="#f4e623"/>
<rect x="523.67" y="230.40" width="5.73" height="2.40" fill="#440154"/>
<rect x="523.67" y="228.00" width="5.73" height="2.40" fill="#460a5d"/>
<rect x="523.67" y="225.60" width="5.73" height="2.40" fill="#24a784"/>
<rect x="523.67" y="223.20" width="5.73" height="2.40" fill="#66cb5d"/>
<rect x="523.67" y="220.80" width="5.73" height="2.40" fill="#97d83e"/>
<rect x="523.67" y="218.40" width="5.73" height="2.40" fill="#bbde29"/>
<rect x="523.67" y="216.00" width="5.73" height="2.40" fill="#cbe120"/>
<rect x="523.67" y="213.60" width="5.73" height="2.40" fill="#d4e21a"/>
<rect x="523.67" y="211.20" width="5.73" height="2.40" fill="#dde31c"/>
<rect x="523.67" y="208.80" width="5.73" height="2.40" fill="#e1e41d"/>
<rect x="523.67" y="206.40" width="5.73" height="2.40" fill="#e5e41f"/>
<rect x="523.67" y="204.00" width="5.73" height="2.40" fill="#eee521"/>
<rect x="529.41" y="232.80" width="5.73" height="2.40" fill="#f4e623"/>
<rect x="529.41" y="230.40" width="5.73" height="2.40" fill="#440154"/>
<rect x="529.41" y="228.00" width="5.73" height="2.40" fill="#450457"/>
<rect x="529.41" y="225.60" width="5.73" height="2.40" fill="#24a784"/>
<rect x="529.41" y="223.20" width="5.73" height="2.40" fill="#73cf55"/>
<rect x="529.41" y="220.80" width="5.73" height="2.40" fill="#afdd2f"/>
<rect x="529.41" y="218.40" width="5.73" height="2.40" fill="#dae31b"/>
<rect x="529.41" y="216.00" width="5.73" height="2.40" fill="#e6e41f"/>
<rect x="529.41" y="213.60" width="5.73" height="2.40" fill="#e9e41f"/>
<rect x="529.41" y="211.20" width="5.73" height="2.40" fill="#ebe520"/>
<rect x="529.41" y="204.00" width="5.73" height="2.40" fill="#f1e522"/>
<rect x="529.41" y="199.20" width="5.73" height="2.40" fill="#f2e622"/>
<rect x="535.14" y="232.80" width="5.73" height="2.40" fill="#f4e623"/>
<rect x="535.14" y="230.40" width="5.73" height="2.40" fill="#440154"/>
<rect x="535.14" y="228.00" width="5.73" height="2.40" fill="#440154"/>
<rect x="535.14" y="225.60" width="5.73" height="2.40" fill="#24a784"/>
<rect x="535.14" y="223.20" width="5.73" height="2.40" fill="#7ad151"/>
<rect x="535.14" y="220.80" width="5.73" height="2.40" fill="#bbde28"/>
<rect x="535.14" y="218.40" width="5.73" height="2.40" fill="#e8e41f"/>
<rect x="535.14" y="213.60" width="5.73" height="2.40" fill="#f2e622"/>
<rect x="535.14" y="211.20" width="5.73" height="2.40" fill="#f2e622"/>
<rect x="535.14" y="208.80" width="5.73" height="2.40" fill="#f2e622"/>
<rect x="535.14" y="204.00" width="5.73" height="2.40" fill="#f2e622"/>
<rect x="540.87" y="230.40" width="5.73" height="2.40" fill="#f2e622"/>
<rect x="540.87" y="228.00" width="5.73" height="2.40" fill="#20948c"/>
<rect x="540.87" y="225.60" width="5.73" height="2.40" fill="#481a6b"/>
<rect x="540.87" y="223.20" width="5.73" height="2.40" fill="#98d83e"/>
<rect x="540.87" y="220.80" width="5.73" height="2.40" fill="#dfe31d"/>
<rect x="540.87" y="218.40" width="5.73" height="2.40" fill="#ede521"/>
<rect x="540.87" y="216.00" width="5.73" height="2.40" fill="#f4e623"/>
<rect x="540.87" y="213.60" width="5.73" height="2.40" fill="#f4e623"/>
<rect x="540.87" y="211.20" width="5.73" height="2.40" fill="#f4e623"/>
<rect x="540.87" y="208.80" width="5.73" height="2.40" fill="#f4e623"/>
<rect x="540.87" y="206.40" width="5.73" height="2.40" fill="#f4e623"/>
<rect x="540.87" y="204.00" width="5.73" height="2.40" fill="#f4e623"/>
<rect x="540.87" y="201.60" width="5.73" height="2.40" fill="#f4e623"/>
<rect x="540.87" y="199.20" width="5.73" height="2.40" fill="#f4e623"/>
<rect x="546.61" y="230.40" width="5.73" height="2.40" fill="#f4e623"/>
<rect x="546.61" y="228.00" width="5.73" height="2.40" fill="#65cb5d"/>
<rect x="546.61" y="225.60" width="5.73" height="2.40" fill="#440154"/>
<rect x="546.61" y="223.20" width="5.73" height="2.40" fill="#41be72"/>
<rect x="546.61" y="220.80" width="5.73" height="2.40" fill="#dbe31c"/>
<rect x="546.61" y="218.40" width="5.73" height="2.40" fill="#eae520"/>
<rect x="546.61" y="216.00" width="5.73" height="2.40" fill="#f4e623"/>
<rect x="546.61" y="213.60" width="5.73" height="2.40" fill="#f4e623"/>
<rect x="546.61" y="211.20" width="5.73" height="2.40" fill="#f4e623"/>
<rect x="546.61" y="208.80" width="5.73" height="2.40" fill="#f4e623"/>
<rect x="546.61" y="206.40" width="5.73" height="2.40" fill="#f4e623"/>
<rect x="546.61" y="199.20" width="5.73" height="2.40" fill="#f4e623"/>
<rect x="552.34" y="230.40" width="5.73" height="2.40" fill="#f4e623"/>
<rect x="552.34" y="228.00" width="5.73" height="2.40" fill="#69cc5b"/>
<rect x="552.34" y="225.60" width="5.73" height="2.40" fill="#440154"/>
<rect x="552.34" y="223.20" width="5.73" height="2.40" fill="#2fb37c"/>
<rect x="552.34" y="220.80" width="5.73" height="2.40" fill="#dae31b"/>
<rect x="552.34" y="218.40" width="5.73" height="2.40" fill="#eae520"/>
<rect x="552.34" y="216.00" width="5.73" height="2.40" fill="#f4e623"/>
<rect x="552.34" y="213.60" width="5.73" height="2.40" fill="#f4e623"/>
<rect x="552.34" y="211.20" width="5.73" height="2.40" fill="#f4e623"/>
<rect x="552.34" y="208.80" width="5.73" height="2.40" fill="#f4e623"/>
<rect x="552.34" y="206.40" width="5.73" height="2.40" fill="#f4e623"/>
<rect x="552.34" y="201.60" width="5.73" height="2.40" fill="#f4e623"/>
<rect x="552.34" y="199.20" width="5.73" height="2.40" fill="#f4e623"/>
<rect x="558.07" y="230.40" width="5.73" height="2.40" fill="#f4e623"/>
<rect x="558.07" y="228.00" width="5.73" height="2.40" fill="#76d053"/>
<rect x="558.07" y="225.60" width="5.73" height="2.40" fill="#440154"/>
<rect x="558.07" y="223.20" width="5.73" height="2.40" fill="#27ad81"/>
<rect x="558.07" y="220.80" width="5.73" height="2.40" fill="#d9e21b"/>
<rect x="558.07" y="218.40" width="5.73" height="2.40" fill="#e9e41f"/>
<rect x="558.07" y="216.00" width="5.73" height="2.40" fill="#f4e622"/>
<rect x="558.07" y="213.60" width="5.73" height="2.40" fill="#f4e623"/>
<rect x="558.07" y="211.20" width="5.73" height="2.40" fill="#f4e623"/>
<rect x="558.07" y="206.40" width="5.73" height="2.40" fill="#f4e623"/>
<rect x="558.07" y="201.60" width="5.73" height="2.40" fill="#f4e623"/>
<rect x="558.07" y="199.20" width="5.73" height="2.40" fill="#f4e623"/>
<rect x="563.81" y="230.40" width="5.73" height="2.40" fill="#f4e623"/>
<rect x="563.81" y="228.00" width="5.73" height="2.40" fill="#83d34c"/>
<rect x="563.81" y="225.60" width="5.73" height="2.40" fill="#440154"/>
<rect x="563.81" y="223.20" width="5.73" height="2.40" fill="#24a784"/>
<rect x="563.81" y="220.80" width="5.73" height="2.40" fill="#d7e21b"/>
<rect x="563.81" y="218.40" width="5.73" height="2.40" fill="#e8e41f"/>
<rect x="563.81" y="216.00" width="5.73" height="2.40" fill="#f3e622"/>
<rect x="563.81" y="213.60" width="5.73" height="2.40" fill="#f4e623"/>
<rect x="563.81" y="211.20" width="5.73" height="2.40" fill="#f4e623"/>
<rect x="563.81" y="206.40" width="5.73" height="2.40" fill="#f4e623"/>
<rect x="563.81" y="204.00" width="5.73" height="2.40" fill="#f4e623"/>
<rect x="563.81" y="199.20" width="5.73" height="2.40" fill="#f4e623"/>
<rect x="569.54" y="228.00" width="5.73" height="2.40" fill="#a1da38"/>
<rect x="569.54" y="225.60" width="5.73" height="2.40" fill="#440154"/>
<rect x="569.54" y="223.20" width="5.73" height="2.40" fill="#3b518b"/>
<rect x="569.54" y="220.80" width="5.73" height="2.40" fill="#d2e21c"/>
<rect x="569.54" y="218.40" width="5.73" height="2.40" fill="#e3e41e"/>
<rect x="569.54" y="216.00" width="5.73" height="2.40" fill="#f1e522"/>
<rect x="569.54" y="213.60" width="5.73" height="2.40" fill="#f4e623"/>
<rect x="569.54" y="211.20" width="5.73" height="2.40" fill="#f4e623"/>
<rect x="569.54" y="206.40" width="5.73" height="2.40" fill="#f4e623"/>
<rect x="569.54" y="204.00" width="5.73" height="2.40" fill="#f4e623"/>
<rect x="569.54" y="199.20" width="5.73" height="2.40" fill="#f4e623"/>
<rect x="569.54" y="192.00" width="5.73" height="2.40" fill="#f9e624"/>
<rect x="575.27" y="228.00" width="5.73" height="2.40" fill="#b7de2a"/>
<rect x="575.27" y="225.60" width="5.73" height="2.40" fill="#440154"/>
<rect x="575.27" y="223.20" width="5.73" height="2.40" fill="#440154"/>
<rect x="575.27" y="220.80" width="5.73" height="2.40" fill="#56c666"/>
<rect x="575.27" y="218.40" width="5.73" height="2.40" fill="#dee31d"/>
<rect x="575.27" y="216.00" width="5.73" height="2.40" fill="#ede521"/>
<rect x="575.27" y="213.60" width="5.73" height="2.40" fill="#f4e623"/>
<rect x="575.27" y="206.40" width="5.73" height="2.40" fill="#f4e623"/>
<rect x="575.27" y="204.00" width="5.73" height="2.40" fill="#f4e623"/>
<rect x="575.27" y="199.20" width="5.73" height="2.40" fill="#f4e623"/>
<rect x="575.27" y="189.60" width="5.73" height="2.40" fill="#f9e624"/>
<rect x="581.01" y="228.00" width="5.73" height="2.40" fill="#dae31b"/>
<rect x="581.01" y="225.60" width="5.73" height="2.40" fill="#38578c"/>
<rect x="581.01" y="223.20" width="5.73" height="2.40" fill="#440154"/>
<rect x="581.01" y="220.80" width="5.73" height="2.40" fill="#25838e"/>
<rect x="581.01" y="218.40" width="5.73" height="2.40" fill="#cde11f"/>
<rect x="581.01" y="216.00" width="5.73" height="2.40" fill="#e9e41f"/>
<rect x="581.01" y="213.60" width="5.73" height="2.40" fill="#f4e623"/>
<rect x="581.01" y="208.80" width="5.73" height="2.40" fill="#f4e623"/>
<rect x="581.01" y="206.40" width="5.73" height="2.40" fill="#f4e623"/>
<rect x="581.01" y="199.20" width="5.73" height="2.40" fill="#f4e623"/>
<rect x="581.01" y="184.80" width="5.73" height="2.40" fill="#f9e624"/>
<rect x="586.74" y="225.60" width="5.73" height="2.40" fill="#20998a"/>
<rect x="586.74" y="223.20" width="5.73" height="2.40" fill="#440154"/>
<rect x="586.74" y="220.80" width="5.73" height="2.40" fill="#443981"/>
<rect x="586.74" y="218.40" width="5.73" height="2.40" fill="#7ed24f"/>
<rect x="586.74" y="216.00" width="5.73" height="2.40" fill="#e5e41e"/>
<rect x="586.74" y="213.60" width="5.73" height="2.40" fill="#f1e622"/>
<rect x="586.74" y="211.20" width="5.73" height="2.40" fill="#f4e623"/>
<rect x="586.74" y="208.80" width="5.73" height="2.40" fill="#f4e623"/>
<rect x="586.74" y="206.40" width="5.73" height="2.40" fill="#f4e623"/>
<rect x="586.74" y="204.00" width="5.73" height="2.40" fill="#f4e623"/>
<rect x="586.74" y="201.60" width="5.73" height="2.40" fill="#f4e623"/>
<rect x="586.74" y="182.40" width="5.73" height="2.40" fill="#f9e624"/>
<rect x="592.47" y="225.60" width="5.73" height="2.40" fill="#58c765"/>
<rect x="592.47" y="223.20" width="5.73" height="2.40" fill="#440154"/>
<rect x="592.47" y="220.80" width="5.73" height="2.40" fill="#440154"/>
<rect x="592.47" y="218.40" width="5.73" height="2.40" fill="#3cbb75"/>
<rect x="592.47" y="216.00" width="5.73" height="2.40" fill="#e0e31d"/>
<rect x="592.47" y="213.60" width="5.73" height="2.40" fill="#eee521"/>
<rect x="592.47" y="211.20" width="5.73" height="2.40" fill="#f4e623"/>
<rect x="592.47" y="208.80" width="5.73" height="2.40" fill="#f4e623"/>
<rect x="592.47" y="206.40" width="5.73" height="2.40" fill="#f4e623"/>
<rect x="592.47" y="204.00" width="5.73" height="2.40" fill="#f4e623"/>
<rect x="592.47" y="201.60" width="5.73" height="2.40" fill="#f4e623"/>
<rect x="592.47" y="177.60" width="5.73" height="2.40" fill="#f9e624"/>
<rect x="592.47" y="194.40" width="5.73" height="2.40" fill="#f9e624"/>
<rect x="598.21" y="225.60" width="5.73" height="2.40" fill="#aedd30"/>
<rect x="598.21" y="223.20" width="5.73" height="2.40" fill="#45095c"/>
<rect x="598.21" y="220.80" width="5.73" height="2.40" fill="#440154"/>
<rect x="598.21" y="218.40" width="5.73" height="2.40" fill="#21928c"/>
<rect x="598.21" y="216.00" width="5.73" height="2.40" fill="#cbe11f"/>
<rect x="598.21" y="213.60" width="5.73" height="2.40" fill="#eae520"/>
<rect x="598.21" y="211.20" width="5.73" height="2.40" fill="#f4e623"/>
<rect x="598.21" y="208.80" width="5.73" height="2.40" fill="#f4e623"/>
<rect x="598.21" y="206.40" width="5.73" height="2.40" fill="#f4e623"/>
<rect x="598.21" y="204.00" width="5.73" height="2.40" fill="#f4e623"/>
<rect x="598.21" y="201.60" width="5.73" height="2.40" fill="#f4e623"/>
<rect x="598.21" y="172.80" width="5.73" height="2.40" fill="#f9e624"/>
<rect x="598.21" y="192.00" width="5.73" height="2.40" fill="#f9e624"/>
<rect x="603.94" y="225.60" width="5.73" height="2.40" fill="#e0e31d"/>
<rect x="603.94" y="223.20" width="5.73" height="2.40" fill="#2e6c8e"/>
<rect x="603.94" y="220.80" width="5.73" height="2.40" fill="#440154"/>
<rect x="603.94" y="218.40" width="5.73" height="2.40" fill="#37598c"/>
<rect x="603.94" y="216.00" width="5.73" height="2.40" fill="#97d83e"/>
<rect x="603.94" y="213.60" width="5.73" height="2.40" fill="#e2e41e"/>
<rect x="603.94" y="211.20" width="5.73" height="2.40" fill="#f0e521"/>
<rect x="603.94" y="208.80" width="5.73" height="2.40" fill="#f4e623"/>
<rect x="603.94" y="206.40" width="5.73" height="2.40" fill="#f4e623"/>
<rect x="603.94" y="204.00" width="5.73" height="2.40" fill="#f4e623"/>
<rect x="603.94" y="201.60" width="5.73" height="2.40" fill="#f4e623"/>
<rect x="603.94" y="170.40" width="5.73" height="2.40" fill="#f9e624"/>
<rect x="603.94" y="189.60" width="5.73" height="2.40" fill="#f9e624"/>
<rect x="609.68" y="225.60" width="5.73" height="2.40" fill="#f4e622"/>
<rect x="609.68" y="223.20" width="5.73" height="2.40" fill="#2cb07e"/>
<rect x="609.68" y="220.80" width="5.73" height="2.40" fill="#440154"/>
<rect x="609.68" y="218.40" width="5.73" height="2.40" fill="#471062"/>
<rect x="609.68" y="216.00" width="5.73" height="2.40" fill="#4fc36a"/>
<rect x="609.68" y="213.60" width="5.73" height="2.40" fill="#dae31b"/>
<rect x="609.68" y="211.20" width="5.73" height="2.40" fill="#eae520"/>
<rect x="609.68" y="208.80" width="5.73" height="2.40" fill="#f4e623"/>
<rect x="609.68" y="206.40" width="5.73" height="2.40" fill="#f4e623"/>
<rect x="609.68" y="204.00" width="5.73" height="2.40" fill="#f4e623"/>
<rect x="609.68" y="201.60" width="5.73" height="2.40" fill="#f4e623"/>
<rect x="609.68" y="168.00" width="5.73" height="2.40" fill="#f9e624"/>
<rect x="609.68" y="187.20" width="5.73" height="2.40" fill="#f9e624"/>
<rect x="609.68" y="196.80" width="5.73" height="2.40" fill="#f9e624"/>
<rect x="615.41" y="223.20" width="5.73" height="2.40" fill="#8bd546"/>
<rect x="615.41" y="220.80" width="5.73" height="2.40" fill="#440154"/>
<rect x="615.41" y="218.40" width="5.73" height="2.40" fill="#440154"/>
<rect x="615.41" y="216.00" width="5.73" height="2.40" fill="#1f9c89"/>
<rect x="615.41" y="213.60" width="5.73" height="2.40" fill="#d0e11d"/>
<rect x="615.41" y="211.20" width="5.73" height="2.40" fill="#e2e41e"/>
<rect x="615.41" y="208.80" width="5.73" height="2.40" fill="#efe521"/>
<rect x="615.41" y="206.40" width="5.73" height="2.40" fill="#f4e623"/>
<rect x="615.41" y="204.00" width="5.73" height="2.40" fill="#f4e623"/>
<rect x="615.41" y="201.60" width="5.73" height="2.40" fill="#f4e623"/>
<rect x="615.41" y="168.00" width="5.73" height="2.40" fill="#f9e624"/>
<rect x="615.41" y="182.40" width="5.73" height="2.40" fill="#f9e624"/>
<rect x="615.41" y="196.80" width="5.73" height="2.40" fill="#f9e624"/>
<rect x="621.14" y="223.20" width="5.73" height="2.40" fill="#d0e11d"/>
<rect x="621.14" y="220.80" width="5.73" height="2.40" fill="#3e4988"/>
<rect x="621.14" y="218.40" width="5.73" height="2.40" fill="#440154"/>
<rect x="621.14" y="216.00" width="5.73" height="2.40" fill="#30688d"/>
<rect x="621.14" y="213.60" width="5.73" height="2.40" fill="#a1da38"/>
<rect x="621.14" y="211.20" width="5.73" height="2.40" fill="#dae31b"/>
<rect x="621.14" y="208.80" width="5.73" height="2.40" fill="#e9e520"/>
<rect x="621.14" y="206.40" width="5.73" height="2.40" fill="#f4e622"/>
<rect x="621.14" y="204.00" width="5.73" height="2.40" fill="#f4e623"/>
<rect x="621.14" y="201.60" width="5.73" height="2.40" fill="#f4e623"/>
<rect x="621.14" y="168.00" width="5.73" height="2.40" fill="#f9e624"/>
<rect x="621.14" y="184.80" width="5.73" height="2.40" fill="#f9e624"/>
<rect x="621.14" y="196.80" width="5.73" height="2.40" fill="#f9e624"/>
<rect x="626.88" y="223.20" width="5.73" height="2.40" fill="#f0e521"/>
<rect x="626.88" y="220.80" width="5.73" height="2.40" fill="#20a187"/>
<rect x="626.88" y="218.40" width="5.73" height="2.40" fill="#440154"/>
<rect x="626.88" y="216.00" width="5.73" height="2.40" fill="#481b6c"/>
<rect x="626.88" y="213.60" width="5.73" height="2.40" fill="#53c468"/>
<rect x="626.88" y="211.20" width="5.73" height="2.40" fill="#cfe11d"/>
<rect x="626.88" y="208.80" width="5.73" height="2.40" fill="#e2e41d"/>
<rect x="626.88" y="206.40" width="5.73" height="2.40" fill="#efe521"/>
<rect x="626.88" y="204.00" width="5.73" height="2.40" fill="#f4e623"/>
<rect x="626.88" y="201.60" width="5.73" height="2.40" fill="#f4e623"/>
<rect x="626.88" y="170.40" width="5.73" height="2.40" fill="#f9e624"/>
<rect x="626.88" y="182.40" width="5.73" height="2.40" fill="#f9e624"/>
<rect x="626.88" y="196.80" width="5.73" height="2.40" fill="#f9e624"/>
<rect x="632.61" y="220.80" width="5.73" height="2.40" fill="#81d34d"/>
<rect x="632.61" y="218.40" width="5.73" height="2.40" fill="#440154"/>
<rect x="632.61" y="216.00" width="5.73" height="2.40" fill="#440154"/>
<rect x="632.61" y="213.60" width="5.73" height="2.40" fill="#20988a"/>
<rect x="632.61" y="211.20" width="5.73" height="2.40" fill="#c3e024"/>
<rect x="632.61" y="208.80" width="5.73" height="2.40" fill="#d8e21b"/>
<rect x="632.61" y="206.40" width="5.73" height="2.40" fill="#e8e41f"/>
<rect x="632.61" y="204.00" width="5.73" height="2.40" fill="#f3e622"/>
<rect x="632.61" y="201.60" width="5.73" height="2.40" fill="#f4e623"/>
<rect x="632.61" y="199.20" width="5.73" height="2.40" fill="#f4e623"/>
<rect x="632.61" y="168.00" width="5.73" height="2.40" fill="#f9e624"/>
<rect x="632.61" y="182.40" width="5.73" height="2.40" fill="#f9e624"/>
<rect x="638.34" y="220.80" width="5.73" height="2.40" fill="#d3e21b"/>
<rect x="638.34" y="218.40" width="5.73" height="2.40" fill="#3a538b"/>
<rect x="638.34" y="216.00" width="5.73" height="2.40" fill="#440154"/>
<rect x="638.34" y="213.60" width="5.73" height="2.40" fill="#365b8c"/>
<rect x="638.34" y="211.20" width="5.73" height="2.40" fill="#8ed644"/>
<rect x="638.34" y="208.80" width="5.73" height="2.40" fill="#cde11e"/>
<rect x="638.34" y="206.40" width="5.73" height="2.40" fill="#e0e31d"/>
<rect x="638.34" y="204.00" width="5.73" height="2.40" fill="#eee521"/>
<rect x="638.34" y="201.60" width="5.73" height="2.40" fill="#f4e623"/>
<rect x="638.34" y="199.20" width="5.73" height="2.40" fill="#f4e623"/>
<rect x="638.34" y="172.80" width="5.73" height="2.40" fill="#f9e624"/>
<rect x="638.34" y="182.40" width="5.73" height="2.40" fill="#f9e624"/>
<rect x="644.08" y="220.80" width="5.73" height="2.40" fill="#f1e622"/>
<rect x="644.08" y="218.40" width="5.73" height="2.40" fill="#24a884"/>
<rect x="644.08" y="216.00" width="5.73" height="2.40" fill="#440154"/>
<rect x="644.08" y="213.60" width="5.73" height="2.40" fill="#46095c"/>
<rect x="644.08" y="211.20" width="5.73" height="2.40" fill="#3dbc74"/>
<rect x="644.08" y="208.80" width="5.73" height="2.40" fill="#c1df25"/>
<rect x="644.08" y="206.40" width="5.73" height="2.40" fill="#d7e21a"/>
<rect x="644.08" y="204.00" width="5.73" height="2.40" fill="#e7e41f"/>
<rect x="644.08" y="201.60" width="5.73" height="2.40" fill="#f2e622"/>
<rect x="644.08" y="199.20" width="5.73" height="2.40" fill="#f4e623"/>
<rect x="644.08" y="196.80" width="5.73" height="2.40" fill="#f4e623"/>
<rect x="644.08" y="172.80" width="5.73" height="2.40" fill="#f9e624"/>
<rect x="644.08" y="184.80" width="5.73" height="2.40" fill="#f9e624"/>
<rect x="649.81" y="218.40" width="5.73" height="2.40" fill="#a0da38"/>
<rect x="649.81" y="216.00" width="5.73" height="2.40" fill="#440255"/>
<rect x="649.81" y="213.60" width="5.73" height="2.40" fill="#440154"/>
<rect x="649.81" y="211.20" width="5.73" height="2.40" fill="#277e8e"/>
<rect x="649.81" y="208.80" width="5.73" height="2.40" fill="#addc30"/>
<rect x="649.81" y="206.40" width="5.73" height="2.40" fill="#cae020"/>
<rect x="649.81" y="204.00" width="5.73" height="2.40" fill="#dee31c"/>
<rect x="649.81" y="201.60" width="5.73" height="2.40" fill="#ece520"/>
<rect x="649.81" y="199.20" width="5.73" height="2.40" fill="#f4e623"/>
<rect x="649.81" y="196.80" width="5.73" height="2.40" fill="#f4e623"/>
<rect x="649.81" y="175.20" width="5.73" height="2.40" fill="#f9e624"/>
<rect x="649.81" y="184.80" width="5.73" height="2.40" fill="#f9e624"/>
<rect x="655.54" y="218.40" width="5.73" height="2.40" fill="#e7e41f"/>
<rect x="655.54" y="216.00" width="5.73" height="2.40" fill="#24888e"/>
<rect x="655.54" y="213.60" width="5.73" height="2.40" fill="#440154"/>
<rect x="655.54" y="211.20" width="5.73" height="2.40" fill="#472272"/>
<rect x="655.54" y="208.80" width="5.73" height="2.40" fill="#4ac16d"/>
<rect x="655.54" y="206.40" width="5.73" height="2.40" fill="#bcde28"/>
<rect x="655.54" y="204.00" width="5.73" height="2.40" fill="#d2e21c"/>
<rect x="655.54" y="201.60" width="5.73" height="2.40" fill="#e3e41e"/>
<rect x="655.54" y="199.20" width="5.73" height="2.40" fill="#efe521"/>
<rect x="655.54" y="196.80" width="5.73" height="2.40" fill="#f4e623"/>
<rect x="655.54" y="194.40" width="5.73" height="2.40" fill="#f4e623"/>
<rect x="655.54" y="192.00" width="5.73" height="2.40" fill="#f4e623"/>
<rect x="655.54" y="189.60" width="5.73" height="2.40" fill="#f4e623"/>
<rect x="655.54" y="187.20" width="5.73" height="2.40" fill="#f4e623"/>
<rect x="655.54" y="182.40" width="5.73" height="2.40" fill="#f9e624"/>
<rect x="661.28" y="218.40" width="5.73" height="2.40" fill="#f4e623"/>
<rect x="661.28" y="216.00" width="5.73" height="2.40" fill="#78d052"/>
<rect x="661.28" y="213.60" width="5.73" height="2.40" fill="#440154"/>
<rect x="661.28" y="211.20" width="5.73" height="2.40" fill="#440154"/>
<rect x="661.28" y="208.80" width="5.73" height="2.40" fill="#25858e"/>
<rect x="661.28" y="206.40" width="5.73" height="2.40" fill="#abdc31"/>
<rect x="661.28" y="204.00" width="5.73" height="2.40" fill="#c2df24"/>
<rect x="661.28" y="201.60" width="5.73" height="2.40" fill="#d7e21b"/>
<rect x="661.28" y="199.20" width="5.73" height="2.40" fill="#e7e41f"/>
<rect x="661.28" y="196.80" width="5.73" height="2.40" fill="#f1e622"/>
<rect x="661.28" y="194.40" width="5.73" height="2.40" fill="#f4e623"/>
<rect x="661.28" y="192.00" width="5.73" height="2.40" fill="#f4e623"/>
<rect x="661.28" y="189.60" width="5.73" height="2.40" fill="#f4e623"/>
<rect x="661.28" y="187.20" width="5.73" height="2.40" fill="#f4e623"/>
<rect x="667.01" y="218.40" width="5.73" height="2.40" fill="#f4e623"/>
<rect x="667.01" y="216.00" width="5.73" height="2.40" fill="#c7e022"/>
<rect x="667.01" y="213.60" width="5.73" height="2.40" fill="#414186"/>
<rect x="667.01" y="211.20" width="5.73" height="2.40" fill="#440154"/>
<rect x="667.01" y="208.80" width="5.73" height="2.40" fill="#3d4b89"/>
<rect x="667.01" y="206.40" width="5.73" height="2.40" fill="#69cc5b"/>
<rect x="667.01" y="204.00" width="5.73" height="2.40" fill="#b4dd2d"/>
<rect x="667.01" y="201.60" width="5.73" height="2.40" fill="#cbe120"/>
<rect x="667.01" y="199.20" width="5.73" height="2.40" fill="#dde31c"/>
<rect x="667.01" y="196.80" width="5.73" height="2.40" fill="#ebe520"/>
<rect x="667.01" y="194.40" width="5.73" height="2.40" fill="#f3e622"/>
<rect x="667.01" y="192.00" width="5.73" height="2.40" fill="#f4e623"/>
<rect x="667.01" y="189.60" width="5.73" height="2.40" fill="#f4e623"/>
<rect x="667.01" y="187.20" width="5.73" height="2.40" fill="#f4e623"/>
<rect x="667.01" y="184.80" width="5.73" height="2.40" fill="#f4e623"/>
<rect x="672.74" y="216.00" width="5.73" height="2.40" fill="#e9e41f"/>
<rect x="672.74" y="213.60" width="5.73" height="2.40" fill="#228e8d"/>
<rect x="672.74" y="211.20" width="5.73" height="2.40" fill="#440154"/>
<rect x="672.74" y="208.80" width="5.73" height="2.40" fill="#46095c"/>
<rect x="672.74" y="206.40" width="5.73" height="2.40" fill="#29af80"/>
<rect x="672.74" y="204.00" width="5.73" height="2.40" fill="#a6db35"/>
<rect x="672.74" y="201.60" width="5.73" height="2.40" fill="#bddf27"/>
<rect x="672.74" y="199.20" width="5.73" height="2.40" fill="#d3e21b"/>
<rect x="672.74" y="196.80" width="5.73" height="2.40" fill="#e3e41e"/>
<rect x="672.74" y="194.40" width="5.73" height="2.40" fill="#eee521"/>
<rect x="672.74" y="192.00" width="5.73" height="2.40" fill="#f4e623"/>
<rect x="672.74" y="189.60" width="5.73" height="2.40" fill="#f4e623"/>
<rect x="672.74" y="187.20" width="5.73" height="2.40" fill="#f4e623"/>
<rect x="672.74" y="184.80" width="5.73" height="2.40" fill="#f4e623"/>
<rect x="678.48" y="216.00" width="5.73" height="2.40" fill="#f4e623"/>
<rect x="678.48" y="213.60" width="5.73" height="2.40" fill="#4dc26b"/>
<rect x="678.48" y="211.20" width="5.73" height="2.40" fill="#440154"/>
<rect x="678.48" y="208.80" width="5.73" height="2.40" fill="#440154"/>
<rect x="678.48" y="206.40" width="5.73" height="2.40" fill="#25858e"/>
<rect x="678.48" y="204.00" width="5.73" height="2.40" fill="#99d83d"/>
<rect x="678.48" y="201.60" width="5.73" height="2.40" fill="#afdd2f"/>
<rect x="678.48" y="199.20" width="5.73" height="2.40" fill="#c6e022"/>
<rect x="678.48" y="196.80" width="5.73" height="2.40" fill="#d9e31b"/>
<rect x="678.48" y="194.40" width="5.73" height="2.40" fill="#e7e41f"/>
<rect x="678.48" y="192.00" width="5.73" height="2.40" fill="#f1e522"/>
<rect x="678.48" y="189.60" width="5.73" height="2.40" fill="#f4e623"/>
<rect x="678.48" y="187.20" width="5.73" height="2.40" fill="#f4e623"/>
<rect x="684.21" y="216.00" width="5.73" height="2.40" fill="#f4e623"/>
<rect x="684.21" y="213.60" width="5.73" height="2.40" fill="#a6db34"/>
<rect x="684.21" y="211.20" width="5.73" height="2.40" fill="#481769"/>
<rect x="684.21" y="208.80" width="5.73" height="2.40" fill="#440154"/>
<rect x="684.21" y="206.40" width="5.73" height="2.40" fill="#375a8c"/>
<rect x="684.21" y="204.00" width="5.73" height="2.40" fill="#69cc5b"/>
<rect x="684.21" y="201.60" width="5.73" height="2.40" fill="#a1da38"/>
<rect x="684.21" y="199.20" width="5.73" height="2.40" fill="#b9de2a"/>
<rect x="684.21" y="196.80" width="5.73" height="2.40" fill="#cee11e"/>
<rect x="684.21" y="194.40" width="5.73" height="2.40" fill="#dfe31d"/>
<rect x="684.21" y="192.00" width="5.73" height="2.40" fill="#ebe520"/>
<rect x="684.21" y="189.60" width="5.73" height="2.40" fill="#f3e622"/>
<rect x="684.21" y="187.20" width="5.73" height="2.40" fill="#f4e623"/>
<rect x="689.94" y="216.00" width="5.73" height="2.40" fill="#f4e623"/>
<rect x="689.94" y="213.60" width="5.73" height="2.40" fill="#dae31b"/>
<rect x="689.94" y="211.20" width="5.73" height="2.40" fill="#2a778e"/>
<rect x="689.94" y="208.80" width="5.73" height="2.40" fill="#440154"/>
<rect x="689.94" y="206.40" width="5.73" height="2.40" fill="#443680"/>
<rect x="689.94" y="204.00" width="5.73" height="2.40" fill="#34b679"/>
<rect x="689.94" y="201.60" width="5.73" height="2.40" fill="#94d741"/>
<rect x="689.94" y="199.20" width="5.73" height="2.40" fill="#abdc32"/>
<rect x="689.94" y="196.80" width="5.73" height="2.40" fill="#c2df25"/>
<rect x="689.94" y="194.40" width="5.73" height="2.40" fill="#d6e21a"/>
<rect x="689.94" y="192.00" width="5.73" height="2.40" fill="#e4e41e"/>
<rect x="689.94" y="189.60" width="5.73" height="2.40" fill="#eee521"/>
<rect x="689.94" y="187.20" width="5.73" height="2.40" fill="#f4e623"/>
<rect x="689.94" y="184.80" width="5.73" height="2.40" fill="#f4e623"/>
<rect x="689.94" y="182.40" width="5.73" height="2.40" fill="#f4e623"/>
<rect x="689.94" y="180.00" width="5.73" height="2.40" fill="#f4e623"/>
<rect x="695.68" y="216.00" width="5.73" height="2.40" fill="#f4e623"/>
<rect x="695.68" y="213.60" width="5.73" height="2.40" fill="#f1e622"/>
<rect x="695.68" y="211.20" width="5.73" height="2.40" fill="#3ebc74"/>
<rect x="695.68" y="208.80" width="5.73" height="2.40" fill="#440154"/>
<rect x="695.68" y="206.40" width="5.73" height="2.40" fill="#481668"/>
<rect x="695.68" y="204.00" width="5.73" height="2.40" fill="#21938c"/>
<rect x="695.68" y="201.60" width="5.73" height="2.40" fill="#85d44a"/>
<rect x="695.68" y="199.20" width="5.73" height="2.40" fill="#9bd93c"/>
<rect x="695.68" y="196.80" width="5.73" height="2.40" fill="#b3dd2d"/>
<rect x="695.68" y="194.40" width="5.73" height="2.40" fill="#c9e021"/>
<rect x="695.68" y="192.00" width="5.73" height="2.40" fill="#dae31b"/>
<rect x="695.68" y="189.60" width="5.73" height="2.40" fill="#e7e41f"/>
<rect x="695.68" y="187.20" width="5.73" height="2.40" fill="#f0e521"/>
<rect x="695.68" y="184.80" width="5.73" height="2.40" fill="#f4e623"/>
<rect x="695.68" y="180.00" width="5.73" height="2.40" fill="#f4e623"/>
<rect x="701.41" y="213.60" width="5.73" height="2.40" fill="#f4e623"/>
<rect x="701.41" y="211.20" width="5.73" height="2.40" fill="#a8dc33"/>
<rect x="701.41" y="208.80" width="5.73" height="2.40" fill="#39558c"/>
<rect x="701.41" y="206.40" width="5.73" height="2.40" fill="#460b5e"/>
<rect x="701.41" y="204.00" width="5.73" height="2.40" fill="#2e6e8e"/>
<rect x="701.41" y="201.60" width="5.73" height="2.40" fill="#58c665"/>
<rect x="701.41" y="199.20" width="5.73" height="2.40" fill="#8ad547"/>
<rect x="701.41" y="196.80" width="5.73" height="2.40" fill="#a2da37"/>
<rect x="701.41" y="194.40" width="5.73" height="2.40" fill="#b9de29"/>
<rect x="701.41" y="192.00" width="5.73" height="2.40" fill="#cee11e"/>
<rect x="701.41" y="189.60" width="5.73" height="2.40" fill="#dee31d"/>
<rect x="701.41" y="187.20" width="5.73" height="2.40" fill="#eae520"/>
<rect x="701.41" y="184.80" width="5.73" height="2.40" fill="#f2e622"/>
<rect x="701.41" y="182.40" width="5.73" height="2.40" fill="#f4e623"/>
<rect x="701.41" y="180.00" width="5.73" height="2.40" fill="#f4e623"/>
<rect x="701.41" y="177.60" width="5.73" height="2.40" fill="#f4e623"/>
<rect x="701.41" y="175.20" width="5.73" height="2.40" fill="#f4e623"/>
<rect x="707.14" y="213.60" width="5.73" height="2.40" fill="#f4e623"/>
<rect x="707.14" y="211.20" width="5.73" height="2.40" fill="#e0e31d"/>
<rect x="707.14" y="208.80" width="5.73" height="2.40" fill="#21a286"/>
<rect x="707.14" y="206.40" width="5.73" height="2.40" fill="#481f6f"/>
<rect x="707.14" y="204.00" width="5.73" height="2.40" fill="#3a538b"/>
<rect x="707.14" y="201.60" width="5.73" height="2.40" fill="#26ab82"/>
<rect x="707.14" y="199.20" width="5.73" height="2.40" fill="#79d152"/>
<rect x="707.14" y="196.80" width="5.73" height="2.40" fill="#90d643"/>
<rect x="707.14" y="194.40" width="5.73" height="2.40" fill="#a8dc33"/>
<rect x="707.14" y="192.00" width="5.73" height="2.40" fill="#c0df26"/>
<rect x="707.14" y="189.60" width="5.73" height="2.40" fill="#d4e21b"/>
<rect x="707.14" y="187.20" width="5.73" height="2.40" fill="#e2e41e"/>
<rect x="707.14" y="184.80" width="5.73" height="2.40" fill="#ece520"/>
<rect x="707.14" y="182.40" width="5.73" height="2.40" fill="#f3e622"/>
<rect x="707.14" y="180.00" width="5.73" height="2.40" fill="#f4e623"/>
<rect x="707.14" y="177.60" width="5.73" height="2.40" fill="#f4e623"/>
<rect x="707.14" y="175.20" width="5.73" height="2.40" fill="#f4e623"/>
<rect x="707.14" y="172.80" width="5.73" height="2.40" fill="#f4e623"/>
<rect x="707.14" y="170.40" width="5.73" height="2.40" fill="#f4e623"/>
<rect x="712.88" y="213.60" width="5.73" height="2.40" fill="#f4e623"/>
<rect x="712.88" y="211.20" width="5.73" height="2.40" fill="#f4e623"/>
<rect x="712.88" y="208.80" width="5.73" height="2.40" fill="#7ad151"/>
<rect x="712.88" y="206.40" width="5.73" height="2.40" fill="#39548b"/>
<rect x="712.88" y="204.00" width="5.73" height="2.40" fill="#414386"/>
<rect x="712.88" y="201.60" width="5.73" height="2.40" fill="#238b8d"/>
<rect x="712.88" y="199.20" width="5.73" height="2.40" fill="#69cc5b"/>
<rect x="712.88" y="196.80" width="5.73" height="2.40" fill="#7dd24f"/>
<rect x="712.88" y="194.40" width="5.73" height="2.40" fill="#96d83f"/>
<rect x="712.88" y="192.00" width="5.73" height="2.40" fill="#afdd2f"/>
<rect x="712.88" y="189.60" width="5.73" height="2.40" fill="#c5e023"/>
<rect x="712.88" y="187.20" width="5.73" height="2.40" fill="#d8e21b"/>
<rect x="712.88" y="184.80" width="5.73" height="2.40" fill="#e5e41e"/>
<rect x="712.88" y="182.40" width="5.73" height="2.40" fill="#eee521"/>
<rect x="712.88" y="180.00" width="5.73" height="2.40" fill="#f4e623"/>
<rect x="712.88" y="177.60" width="5.73" height="2.40" fill="#f4e623"/>
<rect x="712.88" y="175.20" width="5.73" height="2.40" fill="#f4e623"/>
<rect x="712.88" y="172.80" width="5.73" height="2.40" fill="#f4e623"/>
<rect x="712.88" y="170.40" width="5.73" height="2.40" fill="#f4e623"/>
<rect x="718.61" y="211.20" width="5.73" height="2.40" fill="#f4e623"/>
<rect x="718.61" y="208.80" width="5.73" height="2.40" fill="#ebe520"/>
<rect x="718.61" y="206.40" width="5.73" height="2.40" fill="#59c765"/>
<rect x="718.61" y="204.00" width="5.73" height="2.40" fill="#33618d"/>
<rect x="718.61" y="201.60" width="5.73" height="2.40" fill="#31658d"/>
<rect x="718.61" y="199.20" width="5.73" height="2.40" fill="#1f9d89"/>
<rect x="718.61" y="196.80" width="5.73" height="2.40" fill="#5cc863"/>
<rect x="718.61" y="194.40" width="5.73" height="2.40" fill="#71ce56"/>
<rect x="718.61" y="192.00" width="5.73" height="2.40" fill="#8ad547"/>
<rect x="718.61" y="189.60" width="5.73" height="2.40" fill="#a4db36"/>
<rect x="718.61" y="187.20" width="5.73" height="2.40" fill="#bcde28"/>
<rect x="718.61" y="184.80" width="5.73" height="2.40" fill="#d0e11d"/>
<rect x="718.61" y="182.40" width="5.73" height="2.40" fill="#dfe31d"/>
<rect x="718.61" y="180.00" width="5.73" height="2.40" fill="#eae520"/>
<rect x="718.61" y="177.60" width="5.73" height="2.40" fill="#f2e622"/>
<rect x="718.61" y="175.20" width="5.73" height="2.40" fill="#f4e623"/>
<rect x="718.61" y="172.80" width="5.73" height="2.40" fill="#f4e623"/>
<rect x="718.61" y="170.40" width="5.73" height="2.40" fill="#f4e623"/>
<rect x="718.61" y="168.00" width="5.73" height="2.40" fill="#f4e623"/>
<rect x="718.61" y="165.60" width="5.73" height="2.40" fill="#f4e623"/>
<rect x="718.61" y="163.20" width="5.73" height="2.40" fill="#f4e623"/>
<rect x="724.34" y="211.20" width="5.73" height="2.40" fill="#f4e623"/>
<rect x="724.34" y="208.80" width="5.73" height="2.40" fill="#ebe520"/>
<rect x="724.34" y="206.40" width="5.73" height="2.40" fill="#59c765"/>
<rect x="724.34" y="204.00" width="5.73" height="2.40" fill="#33618d"/>
<rect x="724.34" y="201.60" width="5.73" height="2.40" fill="#31658d"/>
<rect x="724.34" y="199.20" width="5.73" height="2.40" fill="#1f9d89"/>
<rect x="724.34" y="196.80" width="5.73" height="2.40" fill="#5cc863"/>
<rect x="724.34" y="194.40" width="5.73" height="2.40" fill="#71ce56"/>
<rect x="724.34" y="192.00" width="5.73" height="2.40" fill="#8ad547"/>
<rect x="724.34" y="189.60" width="5.73" height="2.40" fill="#a4db36"/>
<rect x="724.34" y="187.20" width="5.73" height="2.40" fill="#bcde28"/>
<rect x="724.34" y="184.80" width="5.73" height="2.40" fill="#d0e11d"/>
<rect x="724.34" y="182.40" width="5.73" height="2.40" fill="#dfe31d"/>
<rect x="724.34" y="180.00" width="5.73" height="2.40" fill="#eae520"/>
<rect x="724.34" y="177.60" width="5.73" height="2.40" fill="#f2e622"/>
<rect x="724.34" y="175.20" width="5.73" height="2.40" fill="#f4e623"/>
<rect x="724.34" y="172.80" width="5.73" height="2.40" fill="#f4e623"/>
<rect x="724.34" y="170.40" width="5.73" height="2.40" fill="#f4e623"/>
<rect x="724.34" y="168.00" width="5.73" height="2.40" fill="#f4e623"/>
<rect x="724.34" y="165.60" width="5.73" height="2.40" fill="#f4e623"/>
<rect x="724.34" y="163.20" width="5.73" height="2.40" fill="#f4e623"/>
<rect x="730.08" y="211.20" width="5.73" height="2.40" fill="#f4e623"/>
<rect x="730.08" y="208.80" width="5.73" height="2.40" fill="#ebe520"/>
<rect x="730.08" y="206.40" width="5.73" height="2.40" fill="#59c765"/>
<rect x="730.08" y="204.00" width="5.73" height="2.40" fill="#33618d"/>
<rect x="730.08" y="201.60" width="5.73" height="2.40" fill="#31658d"/>
<rect x="730.08" y="199.20" width="5.73" height="2.40" fill="#1f9d89"/>
<rect x="730.08" y="196.80" width="5.73" height="2.40" fill="#5cc863"/>
<rect x="730.08" y="194.40" width="5.73" height="2.40" fill="#71ce56"/>
<rect x="730.08" y="192.00" width="5.73" height="2.40" fill="#8ad547"/>
<rect x="730.08" y="189.60" width="5.73" height="2.40" fill="#a4db36"/>
<rect x="730.08" y="187.20" width="5.73" height="2.40" fill="#bcde28"/>
<rect x="730.08" y="184.80" width="5.73" height="2.40" fill="#d0e11d"/>
<rect x="730.08" y="182.40" width="5.73" height="2.40" fill="#dfe31d"/>
<rect x="730.08" y="180.00" width="5.73" height="2.40" fill="#eae520"/>
<rect x="730.08" y="177.60" width="5.73" height="2.40" fill="#f2e622"/>
<rect x="730.08" y="175.20" width="5.73" height="2.40" fill="#f4e623"/>
<rect x="730.08" y="172.80" width="5.73" height="2.40" fill="#f4e623"/>
<rect x="730.08" y="170.40" width="5.73" height="2.40" fill="#f4e623"/>
<rect x="730.08" y="168.00" width="5.73" height="2.40" fill="#f4e623"/>
<rect x="730.08" y="165.60" width="5.73" height="2.40" fill="#f4e623"/>
<rect x="730.08" y="163.20" width="5.73" height="2.40" fill="#f4e623"/>
<rect x="735.81" y="211.20" width="5.73" height="2.40" fill="#f4e623"/>
<rect x="735.81" y="208.80" width="5.73" height="2.40" fill="#f4e623"/>
<rect x="735.81" y="206.40" width="5.73" height="2.40" fill="#abdc32"/>
<rect x="735.81" y="204.00" width="5.73" height="2.40" fill="#21928c"/>
<rect x="735.81" y="201.60" width="5.73" height="2.40" fill="#30698d"/>
<rect x="735.81" y="199.20" width="5.73" height="2.40" fill="#228e8d"/>
<rect x="735.81" y="196.80" width="5.73" height="2.40" fill="#4bc16c"/>
<rect x="735.81" y="194.40" width="5.73" height="2.40" fill="#68cb5c"/>
<rect x="735.81" y="192.00" width="5.73" height="2.40" fill="#7fd24e"/>
<rect x="735.81" y="189.60" width="5.73" height="2.40" fill="#99d83d"/>
<rect x="735.81" y="187.20" width="5.73" height="2.40" fill="#b2dd2e"/>
<rect x="735.81" y="184.80" width="5.73" height="2.40" fill="#c8e021"/>
<rect x="735.81" y="182.40" width="5.73" height="2.40" fill="#dae31b"/>
<rect x="735.81" y="180.00" width="5.73" height="2.40" fill="#e6e41f"/>
<rect x="735.81" y="177.60" width="5.73" height="2.40" fill="#efe521"/>
<rect x="735.81" y="175.20" width="5.73" height="2.40" fill="#f4e623"/>
<rect x="735.81" y="172.80" width="5.73" height="2.40" fill="#f4e623"/>
<rect x="735.81" y="170.40" width="5.73" height="2.40" fill="#f4e623"/>
<rect x="735.81" y="168.00" width="5.73" height="2.40" fill="#f4e623"/>
<rect x="735.81" y="165.60" width="5.73" height="2.40" fill="#f4e623"/>
<rect x="735.81" y="163.20" width="5.73" height="2.40" fill="#f4e623"/>
<rect x="735.81" y="160.80" width="5.73" height="2.40" fill="#f4e623"/>
<rect x="735.81" y="158.40" width="5.73" height="2.40" fill="#f4e623"/>
<rect x="735.81" y="156.00" width="5.73" height="2.40" fill="#f4e623"/>
<rect x="741.54" y="211.20" width="5.73" height="2.40" fill="#f4e623"/>
<rect x="741.54" y="208.80" width="5.73" height="2.40" fill="#f4e623"/>
<rect x="741.54" y="206.40" width="5.73" height="2.40" fill="#abdc32"/>
<rect x="741.54" y="204.00" width="5.73" height="2.40" fill="#21928c"/>
<rect x="741.54" y="201.60" width="5.73" height="2.40" fill="#30698d"/>
<rect x="741.54" y="199.20" width="5.73" height="2.40" fill="#228e8d"/>
<rect x="741.54" y="196.80" width="5.73" height="2.40" fill="#4bc16c"/>
<rect x="741.54" y="194.40" width="5.73" height="2.40" fill="#68cb5c"/>
<rect x="741.54" y="192.00" width="5.73" height="2.40" fill="#7fd24e"/>
<rect x="741.54" y="189.60" width="5.73" height="2.40" fill="#99d83d"/>
<rect x="741.54" y="187.20" width="5.73" height="2.40" fill="#b2dd2e"/>
<rect x="741.54" y="184.80" width="5.73" height="2.40" fill="#c8e021"/>
<rect x="741.54" y="182.40" width="5.73" height="2.40" fill="#dae31b"/>
<rect x="741.54" y="180.00" width="5.73" height="2.40" fill="#e6e41f"/>
<rect x="741.54" y="177.60" width="5.73" height="2.40" fill="#efe521"/>
<rect x="741.54" y="175.20" width="5.73" height="2.40" fill="#f4e623"/>
<rect x="741.54" y="172.80" width="5.73" height="2.40" fill="#f4e623"/>
<rect x="741.54" y="170.40" width="5.73" height="2.40" fill="#f4e623"/>
<rect x="741.54" y="168.00" width="5.73" height="2.40" fill="#f4e623"/>
<rect x="741.54" y="165.60" width="5.73" height="2.40" fill="#f4e623"/>
<rect x="741.54" y="163.20" width="5.73" height="2.40" fill="#f4e623"/>
<rect x="741.54" y="160.80" width="5.73" height="2.40" fill="#f4e623"/>
<rect x="741.54" y="158.40" width="5.73" height="2.40" fill="#f4e623"/>
<rect x="741.54" y="156.00" width="5.73" height="2.40" fill="#f4e623"/>
<rect x="747.28" y="208.80" width="5.73" height="2.40" fill="#f4e623"/>
<rect x="747.28" y="206.40" width="5.73" height="2.40" fill="#e8e41f"/>
<rect x="747.28" y="204.00" width="5.73" height="2.40" fill="#6acc5b"/>
<rect x="747.28" y="201.60" width="5.73" height="2.40" fill="#277f8e"/>
<rect x="747.28" y="199.20" width="5.73" height="2.40" fill="#287c8e"/>
<rect x="747.28" y="196.80" width="5.73" height="2.40" fill="#22a585"/>
<rect x="747.28" y="194.40" width="5.73" height="2.40" fill="#5ac764"/>
<rect x="747.28" y="192.00" width="5.73" height="2.40" fill="#6fce58"/>
<rect x="747.28" y="189.60" width="5.73" height="2.40" fill="#87d449"/>
<rect x="747.28" y="187.20" width="5.73" height="2.40" fill="#a1da38"/>
<rect x="747.28" y="184.80" width="5.73" height="2.40" fill="#bade29"/>
<rect x="747.28" y="182.40" width="5.73" height="2.40" fill="#cee11e"/>
<rect x="747.28" y="180.00" width="5.73" height="2.40" fill="#dee31d"/>
<rect x="747.28" y="177.60" width="5.73" height="2.40" fill="#e9e520"/>
<rect x="747.28" y="175.20" width="5.73" height="2.40" fill="#f1e622"/>
<rect x="747.28" y="172.80" width="5.73" height="2.40" fill="#f4e623"/>
<rect x="747.28" y="170.40" width="5.73" height="2.40" fill="#f4e623"/>
<rect x="747.28" y="168.00" width="5.73" height="2.40" fill="#f4e623"/>
<rect x="747.28" y="165.60" width="5.73" height="2.40" fill="#f4e623"/>
<rect x="747.28" y="163.20" width="5.73" height="2.40" fill="#f4e623"/>
<rect x="747.28" y="160.80" width="5.73" height="2.40" fill="#f4e623"/>
<rect x="747.28" y="158.40" width="5.73" height="2.40" fill="#f4e623"/>
<rect x="747.28" y="156.00" width="5.73" height="2.40" fill="#f4e623"/>
<rect x="753.01" y="208.80" width="2.99" height="2.40" fill="#f4e623"/>
<rect x="753.01" y="206.40" width="2.99" height="2.40" fill="#e8e41f"/>
<rect x="753.01" y="204.00" width="2.99" height="2.40" fill="#6acc5b"/>
<rect x="753.01" y="201.60" width="2.99" height="2.40" fill="#277f8e"/>
<rect x="753.01" y="199.20" width="2.99" height="2.40" fill="#287c8e"/>
<rect x="753.01" y="196.80" width="2.99" height="2.40" fill="#22a585"/>
<rect x="753.01" y="194.40" width="2.99" height="2.40" fill="#5ac764"/>
<rect x="753.01" y="192.00" width="2.99" height="2.40" fill="#6fce58"/>
<rect x="753.01" y="189.60" width="2.99" height="2.40" fill="#87d449"/>
<rect x="753.01" y="187.20" width="2.99" height="2.40" fill="#a1da38"/>
<rect x="753.01" y="184.80" width="2.99" height="2.40" fill="#bade29"/>
<rect x="753.01" y="182.40" width="2.99" height="2.40" fill="#cee11e"/>
<rect x="753.01" y="180.00" width="2.99" height="2.40" fill="#dee31d"/>
<rect x="753.01" y="177.60" width="2.99" height="2.40" fill="#e9e520"/>
<rect x="753.01" y="175.20" width="2.99" height="2.40" fill="#f1e622"/>
<rect x="753.01" y="172.80" width="2.99" height="2.40" fill="#f4e623"/>
<rect x="753.01" y="170.40" width="2.99" height="2.40" fill="#f4e623"/>
<rect x="753.01" y="168.00" width="2.99" height="2.40" fill="#f4e623"/>
<rect x="753.01" y="165.60" width="2.99" height="2.40" fill="#f4e623"/>
<rect x="753.01" y="163.20" width="2.99" height="2.40" fill="#f4e623"/>
<rect x="753.01" y="160.80" width="2.99" height="2.40" fill="#f4e623"/>
<rect x="753.01" y="158.40" width="2.99" height="2.40" fill="#f4e623"/>
<rect x="753.01" y="156.00" width="2.99" height="2.40" fill="#f4e623"/>
</g>
<path d="M154.5 60.0V420.0M181.5 60.0V420.0M200.5 60.0V420.0M215.5 60.0V420.0M227.5 60.0V420.0M237.5 60.0V420.0M246.5 60.0V420.0M253.5 60.0V420.0M260.5 60.0V420.0M306.5 60.0V420.0M333.5 60.0V420.0M352.5 60.0V420.0M367.5 60.0V420.0M379.5 60.0V420.0M389.5 60.0V420.0M398.5 60.0V420.0M406.5 60.0V420.0M413.5 60.0V420.0M459.5 60.0V420.0M485.5 60.0V420.0M504.5 60.0V420.0M519.5 60.0V420.0M531.5 60.0V420.0M542.5 60.0V420.0M550.5 60.0V420.0M558.5 60.0V420.0M565.5 60.0V420.0M611.5 60.0V420.0M638.5 60.0V420.0M657.5 60.0V420.0M672.5 60.0V420.0M684.5 60.0V420.0M694.5 60.0V420.0M703.5 60.0V420.0M711.5 60.0V420.0M717.5 60.0V420.0M108.0 372.5H756.0M108.0 324.5H756.0M108.0 276.5H756.0M108.0 228.5H756.0M108.0 180.5H756.0M108.0 132.5H756.0M108.0 84.5H756.0" stroke="#a4a4a4" stroke-width="1" fill="none" shape-rendering="crispEdges"/>
<path d="M260 159.5L312 173.3L340 205L398 228L500 175L513 171.3L534 182L550 212L596 227L611 272L756 249" stroke="#666" stroke-width="2.78" fill="none" stroke-linejoin="round"/>
<path d="M260 343.5L295 340L352 340L398 346L427 333L470 297L509 279L519 279L531 297L565 333L577 339L594 329L617 366L641 383L665 390L694 390L717 384L746 384L756 385.5" stroke="#666" stroke-width="2.78" fill="none" stroke-linejoin="round"/>
<path d="M108.5 421.0v4.5M260.5 421.0v4.5M413.5 421.0v4.5M565.5 421.0v4.5M717.5 421.0v4.5M108.0 420.5h-4.5M108.0 372.5h-4.5M108.0 324.5h-4.5M108.0 276.5h-4.5M108.0 228.5h-4.5M108.0 180.5h-4.5M108.0 132.5h-4.5M108.0 84.5h-4.5" stroke="#000" stroke-width="1" fill="none" shape-rendering="crispEdges"/>
<path d="M154.5 421.0v2.5M181.5 421.0v2.5M200.5 421.0v2.5M215.5 421.0v2.5M227.5 421.0v2.5M237.5 421.0v2.5M246.5 421.0v2.5M253.5 421.0v2.5M306.5 421.0v2.5M333.5 421.0v2.5M352.5 421.0v2.5M367.5 421.0v2.5M379.5 421.0v2.5M389.5 421.0v2.5M398.5 421.0v2.5M406.5 421.0v2.5M459.5 421.0v2.5M485.5 421.0v2.5M504.5 421.0v2.5M519.5 421.0v2.5M531.5 421.0v2.5M542.5 421.0v2.5M550.5 421.0v2.5M558.5 421.0v2.5M611.5 421.0v2.5M638.5 421.0v2.5M657.5 421.0v2.5M672.5 421.0v2.5M684.5 421.0v2.5M694.5 421.0v2.5M703.5 421.0v2.5M711.5 421.0v2.5" stroke="#333" stroke-width="1" fill="none" shape-rendering="crispEdges"/>
<rect x="108.5" y="60.5" width="648.0" height="360.0" fill="none" stroke="#000" stroke-width="1" shape-rendering="crispEdges"/>
<text y="440.80" font-size="14.58" fill="#000"><tspan x="93.12" textLength="30.75" lengthAdjust="spacingAndGlyphs">0.01</tspan></text>
<text y="440.80" font-size="14.58" fill="#000"><tspan x="249.87" textLength="22.00" lengthAdjust="spacingAndGlyphs">0.1</tspan></text>
<text y="440.80" font-size="14.58" fill="#000"><tspan x="408.80" textLength="8.88" lengthAdjust="spacingAndGlyphs">1</tspan></text>
<text y="440.80" font-size="14.58" fill="#000"><tspan x="556.79" textLength="17.62" lengthAdjust="spacingAndGlyphs">10</tspan></text>
<text y="440.80" font-size="14.58" fill="#000"><tspan x="704.79" textLength="26.38" lengthAdjust="spacingAndGlyphs">100</tspan></text>
<text y="425.50" font-size="14.58" fill="#000"><tspan x="60.42" textLength="37.88" lengthAdjust="spacingAndGlyphs">−200</tspan></text>
<text y="377.50" font-size="14.58" fill="#000"><tspan x="60.17" textLength="38.12" lengthAdjust="spacingAndGlyphs">−180</tspan></text>
<text y="329.50" font-size="14.58" fill="#000"><tspan x="60.17" textLength="38.12" lengthAdjust="spacingAndGlyphs">−160</tspan></text>
<text y="281.50" font-size="14.58" fill="#000"><tspan x="60.30" textLength="38.00" lengthAdjust="spacingAndGlyphs">−140</tspan></text>
<text y="233.50" font-size="14.58" fill="#000"><tspan x="60.30" textLength="38.00" lengthAdjust="spacingAndGlyphs">−120</tspan></text>
<text y="185.50" font-size="14.58" fill="#000"><tspan x="60.30" textLength="38.00" lengthAdjust="spacingAndGlyphs">−100</tspan></text>
<text y="137.50" font-size="14.58" fill="#000"><tspan x="69.05" textLength="29.25" lengthAdjust="spacingAndGlyphs">−80</tspan></text>
<text y="89.50" font-size="14.58" fill="#000"><tspan x="69.05" textLength="29.25" lengthAdjust="spacingAndGlyphs">−60</tspan></text>
<text y="52.00" font-size="14.58" fill="#000"><tspan x="124.94" textLength="95.00" lengthAdjust="spacingAndGlyphs">HI.RTH1..HNN</tspan> <tspan x="224.31" textLength="4.62" lengthAdjust="spacingAndGlyphs">|</tspan> <tspan x="233.31" textLength="57.25" lengthAdjust="spacingAndGlyphs">100.0Hz</tspan> <tspan x="294.94" textLength="4.62" lengthAdjust="spacingAndGlyphs">|</tspan> <tspan x="303.94" textLength="150.38" lengthAdjust="spacingAndGlyphs">2025-11-15T00:00:02</tspan> <tspan x="458.69" textLength="4.88" lengthAdjust="spacingAndGlyphs">-</tspan> <tspan x="467.94" textLength="150.25" lengthAdjust="spacingAndGlyphs">2025-12-13T22:30:04</tspan> <tspan x="622.56" textLength="4.62" lengthAdjust="spacingAndGlyphs">|</tspan> <tspan x="631.56" textLength="35.25" lengthAdjust="spacingAndGlyphs">1258</tspan> <tspan x="671.19" textLength="67.88" lengthAdjust="spacingAndGlyphs">segments</tspan></text>
<text y="460.00" font-size="14.58" fill="#000"><tspan x="399.06" textLength="43.38" lengthAdjust="spacingAndGlyphs">Period</tspan> <tspan x="446.81" textLength="18.12" lengthAdjust="spacingAndGlyphs">[s]</tspan></text>
<g transform="translate(46.4 240) rotate(-90)">
<text y="0" font-size="14.6"><tspan x="-91.4" textLength="71.25" lengthAdjust="spacingAndGlyphs">Amplitude</tspan> <tspan x="-15.70">[</tspan><tspan x="-10.30" font-style="italic">m</tspan><tspan x="3.60" font-size="10.2" dy="-5.3">2</tspan><tspan x="10.10" dy="5.3" font-style="italic">/s</tspan><tspan x="22.40" font-size="10.2" dy="-5.3">4</tspan><tspan x="28.90" dy="5.3" font-style="italic" textLength="23" lengthAdjust="spacingAndGlyphs">/Hz</tspan><tspan x="52.00">]</tspan> <tspan x="61.90" textLength="29.4" lengthAdjust="spacingAndGlyphs">[dB]</tspan></text>
</g>
<defs><linearGradient id="cb" x1="0" y1="0" x2="0" y2="1"><stop offset="0.0000" stop-color="#440154"/><stop offset="0.0625" stop-color="#481769"/><stop offset="0.1250" stop-color="#472c7a"/><stop offset="0.1875" stop-color="#423f85"/><stop offset="0.2500" stop-color="#3b518b"/><stop offset="0.3125" stop-color="#33628d"/><stop offset="0.3750" stop-color="#2c718e"/><stop offset="0.4375" stop-color="#26818e"/><stop offset="0.5000" stop-color="#21908d"/><stop offset="0.5625" stop-color="#1f9f88"/><stop offset="0.6250" stop-color="#27ad81"/><stop offset="0.6875" stop-color="#3dbc74"/><stop offset="0.7500" stop-color="#5cc863"/><stop offset="0.8125" stop-color="#81d34d"/><stop offset="0.8750" stop-color="#aadc32"/><stop offset="0.9375" stop-color="#d5e21a"/><stop offset="1.0000" stop-color="#fde725"/></linearGradient></defs>
<rect x="797.5" y="60.5" width="18" height="360.0" fill="url(#cb)" stroke="#000" stroke-width="1" shape-rendering="crispEdges"/>
<text y="425.50" font-size="14.58" fill="#000"><tspan x="825.20" textLength="8.75" lengthAdjust="spacingAndGlyphs">0</tspan></text>
<text y="365.50" font-size="14.58" fill="#000"><tspan x="825.20" textLength="8.75" lengthAdjust="spacingAndGlyphs">5</tspan></text>
<text y="305.50" font-size="14.58" fill="#000"><tspan x="825.20" textLength="17.62" lengthAdjust="spacingAndGlyphs">10</tspan></text>
<text y="245.50" font-size="14.58" fill="#000"><tspan x="825.20" textLength="17.62" lengthAdjust="spacingAndGlyphs">15</tspan></text>
<text y="185.50" font-size="14.58" fill="#000"><tspan x="825.20" textLength="17.50" lengthAdjust="spacingAndGlyphs">20</tspan></text>
<text y="125.50" font-size="14.58" fill="#000"><tspan x="825.20" textLength="17.50" lengthAdjust="spacingAndGlyphs">25</tspan></text>
<text y="65.50" font-size="14.58" fill="#000"><tspan x="825.20" textLength="17.50" lengthAdjust="spacingAndGlyphs">30</tspan></text>
<path d="M816 420.5h4.5M816 360.5h4.5M816 300.5h4.5M816 240.5h4.5M816 180.5h4.5M816 120.5h4.5M816 60.5h4.5" stroke="#000" stroke-width="1" fill="none" shape-rendering="crispEdges"/>
<g transform="translate(859.3 242.3) rotate(-90)">
<text y="0.00" font-size="14.58" fill="#000"><tspan x="-12.06" textLength="24.12" lengthAdjust="spacingAndGlyphs">[%]</tspan></text>
</g>
<g shape-rendering="crispEdges">
<rect x="164.0" y="474.0" width="104.90" height="9.70" fill="#008000"/>
<rect x="297.2" y="474.0" width="93.60" height="9.70" fill="#008000"/>
<rect x="393.2" y="474.0" width="121.00" height="9.70" fill="#008000"/>
<rect x="517.4" y="474.0" width="218.50" height="9.70" fill="#008000"/>
<rect x="183.3" y="483.7" width="17.40" height="14.30" fill="#0000ff"/>
<rect x="201.6" y="483.7" width="67.30" height="14.30" fill="#0000ff"/>
<rect x="297.2" y="483.7" width="75.70" height="14.30" fill="#0000ff"/>
<rect x="373.8" y="483.7" width="8.30" height="14.30" fill="#0000ff"/>
<rect x="383.0" y="483.7" width="7.80" height="14.30" fill="#0000ff"/>
<rect x="393.2" y="483.7" width="121.00" height="14.30" fill="#0000ff"/>
<rect x="517.4" y="483.7" width="65.50" height="14.30" fill="#0000ff"/>
<rect x="583.8" y="483.7" width="37.20" height="14.30" fill="#0000ff"/>
<rect x="621.9" y="483.7" width="114.00" height="14.30" fill="#0000ff"/>
</g>
<rect x="135.5" y="474.5" width="630.0" height="24.0" fill="none" stroke="#000" stroke-width="1" shape-rendering="crispEdges"/>
<g transform="translate(142.05 517.0) rotate(-30)">
<text y="0.00" font-size="14.58" fill="#000"><tspan x="-80.12" textLength="80.12" lengthAdjust="spacingAndGlyphs">2025-11-13</tspan></text>
</g>
<g transform="translate(218.37 517.0) rotate(-30)">
<text y="0.00" font-size="14.58" fill="#000"><tspan x="-80.12" textLength="80.12" lengthAdjust="spacingAndGlyphs">2025-11-17</tspan></text>
</g>
<g transform="translate(294.69 517.0) rotate(-30)">
<text y="0.00" font-size="14.58" fill="#000"><tspan x="-80.12" textLength="80.12" lengthAdjust="spacingAndGlyphs">2025-11-21</tspan></text>
</g>
<g transform="translate(371.01 517.0) rotate(-30)">
<text y="0.00" font-size="14.58" fill="#000"><tspan x="-80.00" textLength="80.00" lengthAdjust="spacingAndGlyphs">2025-11-25</tspan></text>
</g>
<g transform="translate(447.33 517.0) rotate(-30)">
<text y="0.00" font-size="14.58" fill="#000"><tspan x="-80.12" textLength="80.12" lengthAdjust="spacingAndGlyphs">2025-11-29</tspan></text>
</g>
<g transform="translate(485.49 517.0) rotate(-30)">
<text y="0.00" font-size="14.58" fill="#000"><tspan x="-80.00" textLength="80.00" lengthAdjust="spacingAndGlyphs">2025-12-01</tspan></text>
</g>
<g transform="translate(561.81 517.0) rotate(-30)">
<text y="0.00" font-size="14.58" fill="#000"><tspan x="-79.88" textLength="79.88" lengthAdjust="spacingAndGlyphs">2025-12-05</tspan></text>
</g>
<g transform="translate(638.13 517.0) rotate(-30)">
<text y="0.00" font-size="14.58" fill="#000"><tspan x="-80.00" textLength="80.00" lengthAdjust="spacingAndGlyphs">2025-12-09</tspan></text>
</g>
<g transform="translate(714.45 517.0) rotate(-30)">
<text y="0.00" font-size="14.58" fill="#000"><tspan x="-80.00" textLength="80.00" lengthAdjust="spacingAndGlyphs">2025-12-13</tspan></text>
</g>
<path d="M145.5 499.0v4.5M221.5 499.0v4.5M298.5 499.0v4.5M374.5 499.0v4.5M450.5 499.0v4.5M488.5 499.0v4.5M565.5 499.0v4.5M641.5 499.0v4.5M717.5 499.0v4.5" stroke="#000" stroke-width="1" fill="none" shape-rendering="crispEdges"/>
<rect x="0" y="577" width="900" height="23" fill="#808080"/>
<text y="595.50" font-size="14.58" fill="#fff"><tspan x="9.00" textLength="73.75" lengthAdjust="spacingAndGlyphs">Generated</tspan> <tspan x="87.12" textLength="17.12" lengthAdjust="spacingAndGlyphs">by</tspan> <tspan x="108.62" textLength="62.50" lengthAdjust="spacingAndGlyphs">SeedPSD</tspan> <tspan x="175.50" textLength="17.25" lengthAdjust="spacingAndGlyphs">on</tspan> <tspan x="197.12" textLength="80.00" lengthAdjust="spacingAndGlyphs">2025-12-15</tspan> <tspan x="281.50" textLength="4.62" lengthAdjust="spacingAndGlyphs">|</tspan> <tspan x="290.50" textLength="84.88" lengthAdjust="spacingAndGlyphs">Calculations</tspan> <tspan x="379.75" textLength="58.00" lengthAdjust="spacingAndGlyphs">updated</tspan> <tspan x="442.12" textLength="17.25" lengthAdjust="spacingAndGlyphs">on</tspan> <tspan x="463.75" textLength="80.00" lengthAdjust="spacingAndGlyphs">2025-12-14</tspan></text>
</svg>
</body></html>
